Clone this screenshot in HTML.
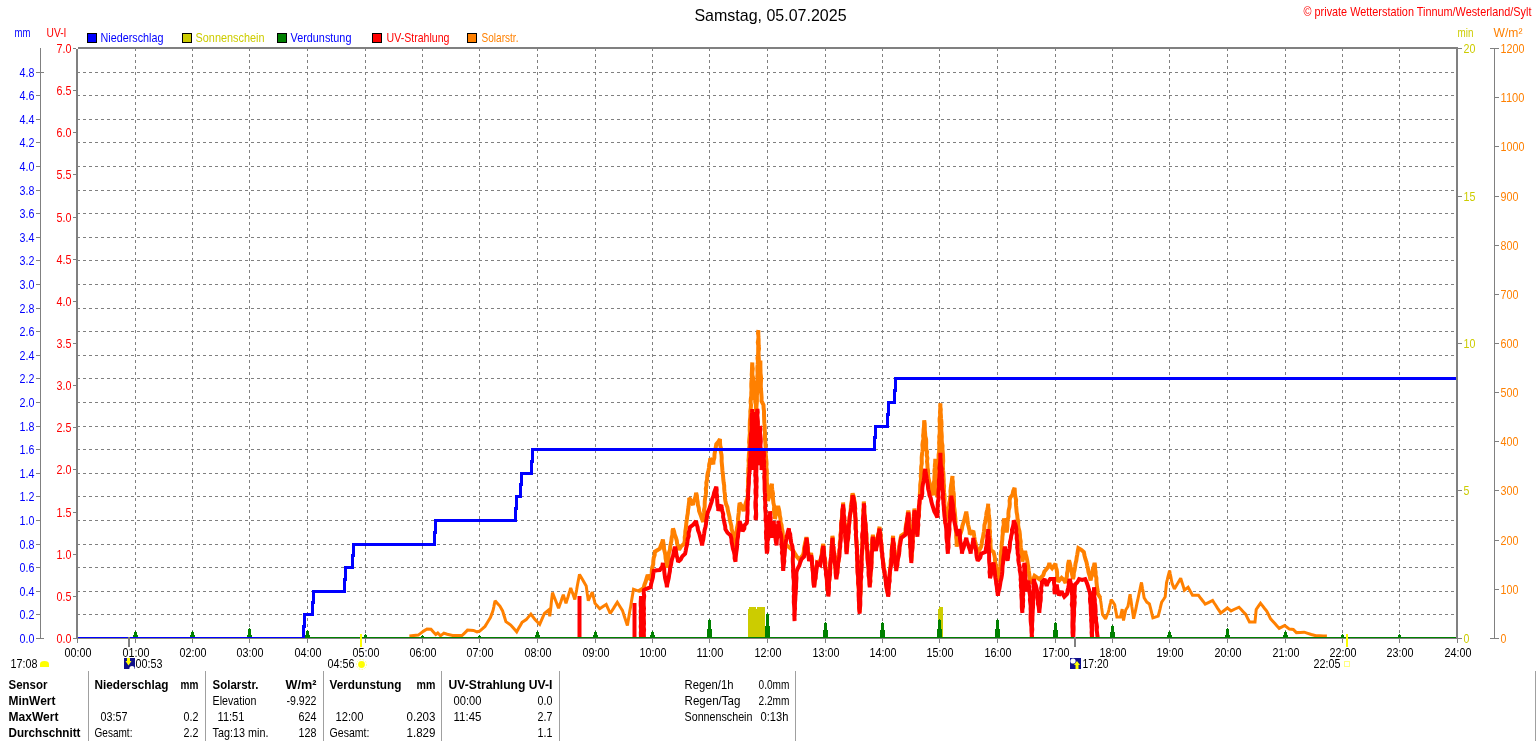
<!DOCTYPE html>
<html><head><meta charset="utf-8"><style>
html,body{margin:0;padding:0;background:#fff;width:1536px;height:741px;overflow:hidden}
svg{display:block;will-change:transform;font-family:"Liberation Sans",sans-serif}
</style></head><body>
<svg width="1536" height="741" viewBox="0 0 1536 741">
<rect width="1536" height="741" fill="#fff"/>
<g shape-rendering="crispEdges">
<line x1="77" y1="614.5" x2="1456" y2="614.5" stroke="#808080" stroke-width="1" stroke-dasharray="3 3"/>
<line x1="77" y1="591.5" x2="1456" y2="591.5" stroke="#808080" stroke-width="1" stroke-dasharray="3 3"/>
<line x1="77" y1="567.5" x2="1456" y2="567.5" stroke="#808080" stroke-width="1" stroke-dasharray="3 3"/>
<line x1="77" y1="544.5" x2="1456" y2="544.5" stroke="#808080" stroke-width="1" stroke-dasharray="3 3"/>
<line x1="77" y1="520.5" x2="1456" y2="520.5" stroke="#808080" stroke-width="1" stroke-dasharray="3 3"/>
<line x1="77" y1="496.5" x2="1456" y2="496.5" stroke="#808080" stroke-width="1" stroke-dasharray="3 3"/>
<line x1="77" y1="473.5" x2="1456" y2="473.5" stroke="#808080" stroke-width="1" stroke-dasharray="3 3"/>
<line x1="77" y1="449.5" x2="1456" y2="449.5" stroke="#808080" stroke-width="1" stroke-dasharray="3 3"/>
<line x1="77" y1="426.5" x2="1456" y2="426.5" stroke="#808080" stroke-width="1" stroke-dasharray="3 3"/>
<line x1="77" y1="402.5" x2="1456" y2="402.5" stroke="#808080" stroke-width="1" stroke-dasharray="3 3"/>
<line x1="77" y1="378.5" x2="1456" y2="378.5" stroke="#808080" stroke-width="1" stroke-dasharray="3 3"/>
<line x1="77" y1="355.5" x2="1456" y2="355.5" stroke="#808080" stroke-width="1" stroke-dasharray="3 3"/>
<line x1="77" y1="331.5" x2="1456" y2="331.5" stroke="#808080" stroke-width="1" stroke-dasharray="3 3"/>
<line x1="77" y1="308.5" x2="1456" y2="308.5" stroke="#808080" stroke-width="1" stroke-dasharray="3 3"/>
<line x1="77" y1="284.5" x2="1456" y2="284.5" stroke="#808080" stroke-width="1" stroke-dasharray="3 3"/>
<line x1="77" y1="260.5" x2="1456" y2="260.5" stroke="#808080" stroke-width="1" stroke-dasharray="3 3"/>
<line x1="77" y1="237.5" x2="1456" y2="237.5" stroke="#808080" stroke-width="1" stroke-dasharray="3 3"/>
<line x1="77" y1="213.5" x2="1456" y2="213.5" stroke="#808080" stroke-width="1" stroke-dasharray="3 3"/>
<line x1="77" y1="190.5" x2="1456" y2="190.5" stroke="#808080" stroke-width="1" stroke-dasharray="3 3"/>
<line x1="77" y1="166.5" x2="1456" y2="166.5" stroke="#808080" stroke-width="1" stroke-dasharray="3 3"/>
<line x1="77" y1="142.5" x2="1456" y2="142.5" stroke="#808080" stroke-width="1" stroke-dasharray="3 3"/>
<line x1="77" y1="119.5" x2="1456" y2="119.5" stroke="#808080" stroke-width="1" stroke-dasharray="3 3"/>
<line x1="77" y1="95.5" x2="1456" y2="95.5" stroke="#808080" stroke-width="1" stroke-dasharray="3 3"/>
<line x1="77" y1="72.5" x2="1456" y2="72.5" stroke="#808080" stroke-width="1" stroke-dasharray="3 3"/>
<line x1="135.5" y1="48" x2="135.5" y2="638" stroke="#808080" stroke-width="1" stroke-dasharray="3 3"/>
<line x1="192.5" y1="48" x2="192.5" y2="638" stroke="#808080" stroke-width="1" stroke-dasharray="3 3"/>
<line x1="249.5" y1="48" x2="249.5" y2="638" stroke="#808080" stroke-width="1" stroke-dasharray="3 3"/>
<line x1="307.5" y1="48" x2="307.5" y2="638" stroke="#808080" stroke-width="1" stroke-dasharray="3 3"/>
<line x1="365.5" y1="48" x2="365.5" y2="638" stroke="#808080" stroke-width="1" stroke-dasharray="3 3"/>
<line x1="422.5" y1="48" x2="422.5" y2="638" stroke="#808080" stroke-width="1" stroke-dasharray="3 3"/>
<line x1="479.5" y1="48" x2="479.5" y2="638" stroke="#808080" stroke-width="1" stroke-dasharray="3 3"/>
<line x1="537.5" y1="48" x2="537.5" y2="638" stroke="#808080" stroke-width="1" stroke-dasharray="3 3"/>
<line x1="595.5" y1="48" x2="595.5" y2="638" stroke="#808080" stroke-width="1" stroke-dasharray="3 3"/>
<line x1="652.5" y1="48" x2="652.5" y2="638" stroke="#808080" stroke-width="1" stroke-dasharray="3 3"/>
<line x1="709.5" y1="48" x2="709.5" y2="638" stroke="#808080" stroke-width="1" stroke-dasharray="3 3"/>
<line x1="767.5" y1="48" x2="767.5" y2="638" stroke="#808080" stroke-width="1" stroke-dasharray="3 3"/>
<line x1="825.5" y1="48" x2="825.5" y2="638" stroke="#808080" stroke-width="1" stroke-dasharray="3 3"/>
<line x1="882.5" y1="48" x2="882.5" y2="638" stroke="#808080" stroke-width="1" stroke-dasharray="3 3"/>
<line x1="939.5" y1="48" x2="939.5" y2="638" stroke="#808080" stroke-width="1" stroke-dasharray="3 3"/>
<line x1="997.5" y1="48" x2="997.5" y2="638" stroke="#808080" stroke-width="1" stroke-dasharray="3 3"/>
<line x1="1055.5" y1="48" x2="1055.5" y2="638" stroke="#808080" stroke-width="1" stroke-dasharray="3 3"/>
<line x1="1112.5" y1="48" x2="1112.5" y2="638" stroke="#808080" stroke-width="1" stroke-dasharray="3 3"/>
<line x1="1169.5" y1="48" x2="1169.5" y2="638" stroke="#808080" stroke-width="1" stroke-dasharray="3 3"/>
<line x1="1227.5" y1="48" x2="1227.5" y2="638" stroke="#808080" stroke-width="1" stroke-dasharray="3 3"/>
<line x1="1285.5" y1="48" x2="1285.5" y2="638" stroke="#808080" stroke-width="1" stroke-dasharray="3 3"/>
<line x1="1342.5" y1="48" x2="1342.5" y2="638" stroke="#808080" stroke-width="1" stroke-dasharray="3 3"/>
<line x1="1399.5" y1="48" x2="1399.5" y2="638" stroke="#808080" stroke-width="1" stroke-dasharray="3 3"/>
</g>
<defs><clipPath id="pc"><rect x="78" y="49" width="1378" height="589"/></clipPath></defs>
<g clip-path="url(#pc)">
<g shape-rendering="crispEdges" fill="#cccc00"><rect x="748" y="609" width="1" height="29"/><rect x="749" y="607" width="7" height="31"/><rect x="756" y="609" width="1" height="29"/><rect x="757" y="607" width="8" height="31"/><rect x="938" y="609" width="1" height="29"/><rect x="939" y="607" width="4" height="31"/></g>
<polyline points="409.4,636.1 413.8,635.6 418.2,635.1 420.9,633.1 423.6,631.1 427.0,629.0 431.0,629.3 433.4,631.9 435.8,634.5 437.8,633.0 440.5,635.8 443.9,633.1 447.2,634.2 452.6,635.5 455.7,635.5 458.9,635.5 462.0,635.5 464.8,632.8 467.5,630.1 470.5,630.2 473.5,630.4 477.0,631.8 479.6,631.1 482.3,628.8 485.0,626.4 486.8,623.5 488.6,620.5 490.4,617.6 491.8,613.9 493.1,610.2 493.8,607.0 494.4,603.9 495.1,600.7 497.5,603.4 499.9,606.1 502.6,610.9 503.7,614.5 504.8,618.0 505.9,621.6 510.7,625.0 512.7,627.3 514.7,629.5 516.7,631.8 518.5,628.6 520.3,625.5 522.1,622.3 526.2,619.6 528.5,616.9 530.9,614.2 533.0,616.9 535.0,619.6 537.4,622.0 539.7,624.3 541.3,620.7 542.8,617.1 544.4,613.5 548.4,610.2 549.1,613.2 549.8,616.2 550.2,612.8 550.6,609.5 551.0,606.1 551.3,602.7 551.7,599.3 552.1,596.0 552.5,592.6 553.7,595.7 554.9,598.8 556.2,602.0 557.4,605.1 558.6,608.2 559.8,604.8 561.0,601.5 562.1,598.1 563.3,594.7 564.2,597.6 565.1,600.5 566.0,603.4 566.9,600.3 567.9,597.2 568.8,594.1 569.8,591.0 570.7,587.9 571.7,590.8 572.8,593.6 573.8,596.5 574.8,599.4 575.4,596.3 576.0,593.1 576.6,590.0 577.1,586.9 577.7,583.8 578.3,580.6 578.9,577.5 579.5,574.4 582.2,579.1 584.2,582.5 586.2,585.9 586.7,589.6 587.2,593.3 587.8,597.0 588.3,600.7 589.6,597.8 591.0,594.9 592.3,592.0 593.2,595.8 594.1,599.6 595.0,603.4 597.4,606.1 599.7,608.8 603.0,606.6 606.2,604.4 607.5,607.4 608.9,610.5 610.2,613.5 612.0,610.7 613.8,607.9 615.5,605.1 617.3,602.3 619.0,605.0 620.7,607.7 622.4,610.4 623.4,613.4 624.4,616.5 625.4,619.5 626.4,622.6 627.4,625.6 627.9,622.6 628.4,619.5 628.9,616.5 629.4,613.5 629.9,610.4 630.5,607.4 631.0,604.4 631.5,601.3 632.0,598.3 632.5,595.3 633.0,592.2 633.5,589.2 638.6,591.2 643.6,588.2" fill="none" stroke="#ff8000" stroke-width="3" stroke-linejoin="miter" stroke-miterlimit="2"/>
<polyline points="638.6,591.2 643.6,588.2 644.4,584.9 645.7,581.6 646.6,578.3 647.7,575.0 650.7,580.0 651.2,576.9 651.7,573.7 651.8,570.6 652.2,567.4 653.2,564.3 653.3,561.1 653.7,558.0 654.7,554.8 654.8,551.7 659.8,548.7 660.8,545.7 662.1,542.6 662.9,539.6 663.3,542.7 663.9,545.9 664.0,549.0 664.8,552.2 665.4,555.3 665.6,558.5 666.2,561.6 666.6,564.8 666.9,567.9 667.1,564.9 668.0,561.8 668.4,558.8 668.6,555.8 668.9,552.7 670.0,549.7 670.2,546.7 670.8,543.7 671.4,540.6 671.7,537.6 672.4,534.6 672.5,531.5 673.0,528.5 674.1,531.5 674.7,534.6 675.9,537.6 676.8,540.6 677.1,543.6 678.0,546.7 679.1,549.7 681.2,546.3 684.1,543.6 684.8,540.6 684.7,537.5 685.2,534.5 685.3,531.5 685.8,528.4 686.1,525.4 686.4,522.4 686.9,519.3 687.2,516.3 687.8,513.3 688.0,510.2 688.5,507.2 688.8,504.2 689.2,501.1 689.2,498.1 690.0,498.8 691.2,502.0 693.0,504.9 693.5,501.9 694.8,498.9 695.7,495.8 696.1,492.8 696.9,495.8 697.1,498.9 697.7,501.9 697.9,504.9 698.8,508.0 699.1,511.0 700.5,514.7 701.7,518.4 703.2,522.1 703.2,519.1 704.0,516.0 704.3,513.0 704.0,510.0 704.7,506.9 704.7,503.9 704.8,500.9 705.2,497.8 705.8,494.8 706.1,491.8 705.8,488.7 706.5,485.7 706.3,482.7 707.1,479.6 707.2,476.6 707.6,473.6 708.5,470.5 709.0,467.5 709.2,464.4 710.0,461.4 710.2,458.3 712.1,461.2 713.3,464.4 713.5,461.0 714.4,457.7 714.5,454.3 715.1,450.9 715.7,447.6 716.3,444.2 718.3,441.8 720.0,439.1 720.0,442.2 720.2,445.4 721.0,448.5 720.8,451.7 721.5,454.8 721.7,457.9 721.6,461.1 721.9,464.2 722.2,467.4 722.4,470.5 722.8,473.5 723.1,476.6 723.3,479.6 723.7,482.7 724.2,485.7 724.2,488.7 724.5,491.8 725.0,494.8 724.9,497.9 725.4,500.9 726.1,504.1 727.4,507.3 727.9,510.6 728.7,513.8 729.5,517.0 729.8,520.0 730.6,523.1 731.4,526.1 731.6,529.2 732.6,532.2 733.2,535.2 733.4,538.3 734.4,541.3 734.9,544.4 735.5,547.4 735.9,544.2 736.0,541.0 736.5,537.9 736.8,534.7 736.6,531.5 736.9,528.3 737.7,525.1 738.2,522.0 738.0,518.8 738.4,515.6 738.8,512.4 738.9,509.3 739.2,506.1 739.6,502.9 741.3,505.4 742.5,508.2 743.6,511.0 744.7,507.4 745.5,503.9 746.6,500.4 747.7,496.8 748.0,493.8 747.6,490.7 748.0,487.7 748.2,484.7 748.0,481.6 748.1,478.6 748.5,475.5 748.2,472.5 748.3,469.5 748.6,466.4 748.8,463.4 748.5,460.4 748.8,457.3 748.9,454.3 749.3,451.3 749.1,448.2 749.5,445.2 749.1,442.1 749.3,439.1 749.6,436.1 749.9,433.0 749.7,430.0 749.8,426.8 749.8,423.6 749.9,420.4 750.3,417.2 750.4,414.2 750.3,411.1 750.8,408.1 751.0,405.0 750.6,402.0 750.8,399.0 751.3,395.9 751.3,392.9 751.5,389.9 751.3,386.8 751.3,383.8 751.5,380.7 752.0,377.7 751.7,374.7 751.9,371.6 752.0,368.6 752.1,365.5 752.3,362.5 752.3,365.6 752.8,368.8 752.4,371.9 752.4,375.0 753.1,378.1 753.2,381.2 753.3,384.4 753.1,387.5 753.5,390.6 753.6,393.8 753.2,396.9 753.5,400.0 753.8,396.8 754.0,393.6 754.1,390.4 754.1,387.1 754.1,383.9 754.4,380.7 754.4,383.7 754.5,386.7 754.6,389.8 755.1,392.8 755.0,395.8 755.5,398.8 755.2,401.9 755.9,404.9 755.9,407.9 756.2,410.9 756.4,414.0 756.5,417.0 756.4,420.0 756.5,416.9 756.2,413.8 756.8,410.7 756.4,407.6 756.6,404.5 756.9,401.4 756.9,398.3 756.9,395.2 757.3,392.1 757.2,389.0 757.0,385.9 757.1,382.8 757.5,379.7 757.3,376.6 757.6,373.5 757.4,370.4 757.4,367.3 757.7,364.2 757.9,361.1 757.5,358.0 758.1,354.9 758.2,351.8 758.2,348.7 758.3,345.6 757.8,342.5 758.3,339.4 758.5,336.3 758.0,333.2 758.4,330.1 758.3,333.2 758.4,336.3 758.6,339.5 758.6,342.6 758.7,345.7 759.0,348.8 758.5,351.9 758.6,355.1 758.8,358.2 758.8,361.3 758.9,364.4 759.6,367.5 759.5,370.6 759.1,373.8 759.4,376.9 759.5,380.0 759.5,376.8 759.7,373.5 759.8,370.2 760.2,367.0 760.3,363.8 760.4,360.5 760.4,363.6 760.4,366.7 760.5,369.8 760.5,373.0 760.9,376.1 761.1,379.2 760.9,382.3 760.8,385.4 760.9,388.5 761.2,391.7 761.4,394.8 761.6,397.9 761.5,401.0 763.5,405.0 763.6,408.1 764.0,411.2 764.0,414.3 764.1,417.5 764.2,420.6 764.4,423.7 764.7,426.8 764.7,429.9 765.0,433.0 765.0,436.2 765.0,439.3 765.4,442.4 765.5,445.5 765.8,448.6 765.5,451.7 765.8,454.7 766.0,457.8 766.4,460.9 766.6,464.0 766.3,467.0 766.8,470.1 766.9,473.2 766.7,476.3 766.9,479.4 766.8,482.4 767.5,485.5 767.5,488.6 767.8,491.7 767.8,494.7 767.9,497.8 767.9,500.9 768.9,497.4 769.6,494.0 770.1,490.5 771.2,487.1 772.0,483.6 771.9,486.8 772.3,490.1 773.0,493.3 772.8,496.5 773.1,499.7 773.4,503.0 774.2,506.2 774.0,509.4 774.1,512.6 775.0,515.9 775.0,519.1 775.5,515.8 776.8,512.5 777.4,509.2 778.1,505.9 778.9,509.1 779.5,512.3 779.8,515.6 780.5,518.8 780.5,522.0 781.6,525.2 781.9,528.4 782.6,531.6 782.7,534.9 783.7,538.1 784.1,541.3 786.4,545.2 790.0,548.0 793.0,550.4 794.9,553.6 796.9,556.8 799.3,559.6 803.0,555.0 803.8,552.0 804.0,549.0 804.5,546.0 805.1,543.0 805.9,540.0 806.4,537.0 807.0,540.2 807.1,543.3 807.5,546.5 807.9,549.6 808.2,552.8 808.7,555.9 809.1,559.1 809.8,556.0 811.1,553.0 811.4,556.2 812.1,559.5 812.0,562.7 812.5,566.0 812.4,569.2 813.1,572.4 813.4,575.7 813.7,578.9 813.9,582.2 814.2,585.4 814.6,582.4 815.1,579.3 815.6,576.3 815.5,573.2 815.8,570.2 816.6,567.2 817.1,564.1 817.2,561.1 820.2,563.1 820.7,559.9 821.2,556.7 821.9,553.5 822.0,550.3 822.6,547.1 823.3,543.9 823.4,547.1 824.0,550.2 824.1,553.4 824.4,556.5 825.0,559.7 825.5,562.9 825.3,566.0 825.9,569.2 826.1,572.4 826.7,575.5 826.8,578.7 826.9,581.9 827.2,585.0 827.3,588.2 828.0,591.3 828.3,594.5 828.4,591.4 828.5,588.3 828.8,585.2 829.0,582.1 829.6,579.1 829.3,576.0 830.2,572.9 830.0,569.8 830.3,566.7 830.4,563.6 830.9,560.5 831.1,557.4 831.1,554.3 831.3,551.2 831.7,548.2 832.0,545.1 831.9,542.0 832.3,538.9 832.4,535.8 833.0,539.0 833.0,542.2 833.1,545.4 833.4,548.6 834.1,551.8 834.4,555.0 834.9,558.1 835.1,561.3 835.0,564.5 835.3,567.7 835.6,570.9 835.9,574.1 836.4,577.3 836.9,574.0 837.4,570.7 837.8,567.4 837.8,564.1 838.6,560.9 838.6,557.6 839.1,554.3 839.5,551.0 839.9,548.0 839.7,544.9 839.9,541.9 840.6,538.9 840.5,535.8 840.7,532.8 841.1,529.7 841.4,526.7 841.2,523.7 841.6,520.6 841.9,517.6 842.2,514.5 842.2,511.5 842.7,508.5 843.2,505.4 843.1,502.4 843.2,505.5 843.6,508.6 843.5,511.7 843.8,514.8 844.3,517.9 844.1,521.0 844.9,524.1 845.1,527.2 844.8,530.3 845.6,533.4 845.4,536.5 845.9,539.6 846.1,542.7 846.0,545.8 846.5,548.9 846.6,552.0 847.0,548.9 847.4,545.7 847.3,542.6 847.9,539.5 848.3,536.4 848.4,533.2 848.5,530.1 848.5,527.0 849.1,523.9 849.2,520.7 849.6,517.6 850.1,514.6 850.5,511.5 850.8,508.5 850.9,505.5 851.6,502.4 851.9,499.4 852.0,496.3 852.6,493.3 853.6,496.3 854.1,499.4 854.7,502.4 854.6,505.4 855.3,508.5 854.9,511.5 855.1,514.5 855.5,517.6 855.6,520.6 855.7,523.7 855.9,526.7 855.9,529.7 856.0,532.8 856.0,535.8 856.1,538.8 856.7,541.9 856.8,544.9 856.8,547.9 857.1,551.0 857.0,554.0 857.0,557.0 857.3,560.1 857.7,563.1 857.3,566.2 857.8,569.2 857.7,572.2 858.2,575.3 858.1,578.3 858.2,581.3 858.4,584.4 858.6,587.4 858.9,590.4 858.8,593.5 859.2,596.5 858.9,599.6 859.1,602.6 859.1,605.6 859.3,608.7 859.7,611.7 860.0,608.6 860.1,605.6 859.8,602.5 859.9,599.4 860.2,596.4 860.6,593.3 860.7,590.3 860.8,587.2 860.8,584.1 860.6,581.1 860.9,578.0 860.9,574.9 861.2,571.9 861.3,568.8 861.2,565.7 861.3,562.7 861.8,559.6 861.4,556.5 862.1,553.5 862.3,550.4 862.4,547.4 862.1,544.3 862.4,541.2 862.5,538.2 862.6,535.1 863.0,532.0 862.9,529.0 862.7,525.9 863.3,522.8 863.1,519.8 863.3,516.7 863.5,513.7 863.1,510.6 863.8,507.5 863.8,504.5 863.8,501.4 864.0,504.4 864.2,507.4 864.4,510.4 864.4,513.4 864.9,516.4 864.8,519.4 865.3,522.4 865.6,525.4 865.7,528.4 866.0,531.4 866.5,534.4 866.6,537.4 866.3,540.4 867.0,543.4 867.1,546.4 866.9,549.4 867.3,552.4 867.5,555.4 867.6,558.4 868.1,561.4 868.6,564.4 868.4,567.4 869.0,570.4 869.1,573.4 868.9,576.4 869.6,579.4 869.7,582.4 869.8,585.4 870.3,582.2 870.3,579.1 870.5,575.9 870.5,572.8 871.0,569.6 871.3,566.4 871.4,563.3 871.3,560.1 871.7,556.9 871.7,553.8 871.7,550.6 871.8,547.4 872.0,544.3 872.3,541.1 872.5,538.0 872.9,534.8 873.6,538.3 874.5,541.9 875.2,545.5 875.9,549.0 876.4,545.8 877.1,542.6 877.3,539.4 878.0,536.3 878.7,533.1 879.0,529.9 879.6,526.7 879.7,529.8 880.5,533.0 880.7,536.1 880.7,539.2 881.1,542.3 881.5,545.5 881.8,548.6 881.9,551.7 882.0,554.8 882.5,558.0 883.0,561.1 883.7,564.1 883.7,567.2 884.4,570.2 884.6,573.2 885.1,576.3 885.6,579.3 886.2,582.4 886.5,585.4 886.8,588.4 887.4,591.5 888.1,594.5 888.1,591.4 888.6,588.3 888.6,585.2 888.8,582.1 889.4,579.1 889.6,576.0 890.1,572.9 889.9,569.8 890.4,566.7 890.7,563.6 890.7,560.5 891.6,557.4 891.3,554.3 891.5,551.2 892.0,548.2 892.1,545.1 892.7,542.0 892.7,538.9 893.1,535.8 893.1,538.8 893.3,541.9 894.1,544.9 894.1,547.9 894.7,551.0 894.8,554.0 895.4,557.1 895.2,560.1 895.5,563.1 895.8,566.2 896.2,569.2 896.9,566.2 897.2,563.1 897.5,560.1 897.7,557.1 898.6,554.0 899.3,551.0 899.4,547.9 899.5,544.9 900.0,541.9 900.5,538.8 901.2,535.8 905.3,532.8 905.5,529.6 905.8,526.4 906.3,523.2 907.1,520.1 907.7,516.9 907.7,513.7 908.3,510.5 908.8,513.7 908.7,516.8 909.1,520.0 909.3,523.1 909.5,526.3 909.1,529.5 909.5,532.6 909.9,535.8 910.3,539.0 909.9,542.1 910.2,545.3 910.8,548.5 910.5,551.6 910.8,554.8 911.0,557.9 911.3,561.1 911.6,558.0 912.0,554.9 911.6,551.8 912.2,548.7 912.4,545.6 912.6,542.5 912.6,539.4 913.1,536.3 912.8,533.3 913.1,530.2 913.1,527.1 913.7,524.0 913.7,520.9 913.7,517.8 913.8,514.7 914.4,511.6 914.4,508.5 914.8,511.8 915.3,515.1 915.4,518.4 915.9,521.6 916.0,524.9 916.8,528.2 916.7,531.5 917.4,534.8 917.6,531.7 918.0,528.6 918.1,525.5 917.9,522.3 918.2,519.2 918.8,516.1 918.8,513.0 919.2,509.9 919.4,506.8 919.3,503.7 919.8,500.5 919.9,497.4 919.8,494.3 920.1,491.2 920.2,488.1 920.2,485.0 920.6,482.0 921.1,478.9 920.7,475.8 921.2,472.7 921.1,469.7 921.2,466.6 921.8,463.5 921.7,460.4 921.7,457.3 922.0,454.3 922.5,451.2 922.7,448.1 922.4,445.0 922.8,441.9 923.5,438.9 923.1,435.8 923.5,432.7 923.6,429.6 924.0,426.6 924.1,423.5 924.2,420.4 924.7,423.6 924.8,426.7 924.8,429.9 925.1,433.1 925.3,436.3 926.1,439.4 926.2,442.6 926.1,445.7 926.2,448.9 927.1,452.0 926.7,455.1 927.4,458.2 927.0,461.4 927.4,464.5 927.5,467.6 928.1,470.7 928.1,473.9 928.2,477.0 929.0,480.4 929.7,483.8 930.2,487.2 932.0,491.2 933.3,495.3 933.4,492.3 933.7,489.2 933.8,486.2 933.7,483.1 934.4,480.1 934.4,477.1 934.7,474.0 934.4,471.0 934.8,467.9 934.9,464.9 935.3,461.8 935.3,458.8 935.2,462.0 935.5,465.2 935.8,468.4 935.7,471.6 936.2,474.8 936.5,478.1 936.4,481.3 936.7,484.5 936.9,487.7 936.8,490.9 937.0,494.1 937.3,497.3 937.7,494.3 937.4,491.2 937.6,488.2 937.4,485.2 937.6,482.1 937.7,479.1 938.3,476.1 938.3,473.0 938.5,470.0 938.6,466.9 938.5,463.9 938.8,460.9 938.6,457.8 938.6,454.8 939.1,451.8 939.2,448.7 939.3,445.7 939.1,442.7 939.4,439.6 939.2,436.6 939.7,433.6 939.8,430.5 939.5,427.5 940.0,424.4 939.6,421.4 939.6,418.4 940.2,415.3 940.0,412.3 940.2,409.3 940.4,406.2 940.4,403.2 940.2,406.2 940.8,409.3 940.6,412.3 940.9,415.3 941.0,418.4 941.4,421.4 941.5,424.4 941.3,427.5 941.3,430.5 941.6,433.5 941.8,436.6 941.7,439.6 941.9,442.6 942.5,445.7 942.4,448.7 942.7,451.8 943.0,454.9 943.1,458.1 943.2,461.2 942.9,464.3 942.9,467.4 943.1,470.5 943.4,473.7 943.5,476.8 943.7,479.9 943.7,483.0 944.1,486.1 943.9,489.3 944.1,492.4 944.5,495.5 944.6,498.6 944.4,501.8 944.5,504.9 945.0,508.0 944.6,511.1 944.8,514.2 945.2,517.4 945.3,520.5 945.4,523.6 945.9,520.0 946.6,516.5 947.5,513.0 948.5,509.4 949.1,506.4 949.2,503.3 949.9,500.3 950.2,497.3 950.7,494.2 950.4,491.2 950.8,488.1 951.1,485.1 951.7,482.1 952.0,479.0 952.5,476.0 952.4,479.0 952.9,482.0 952.8,485.0 953.1,488.0 953.3,491.0 953.8,494.0 953.8,497.0 954.0,500.0 954.0,503.1 954.0,506.2 954.5,509.3 954.8,512.5 955.0,515.6 955.4,518.7 955.5,521.8 955.3,524.9 955.4,528.0 956.0,531.1 956.2,534.2 956.2,537.4 956.6,540.5 956.6,543.6 956.7,546.7 957.3,543.8 958.1,540.9 958.8,537.9 960.0,535.0 961.0,532.1 961.8,529.2 962.3,526.2 963.2,523.3 964.2,520.4 964.9,517.5 965.6,514.5 966.3,511.6 966.7,514.9 967.3,518.1 967.6,521.4 968.1,524.6 968.9,527.9 969.6,531.1 969.8,534.4 973.3,530.9 973.9,534.0 974.3,537.0 974.8,540.1 975.5,543.1 976.3,546.2 976.6,549.3 977.5,552.3 977.7,555.4 978.2,552.2 979.7,549.5 981.2,546.7 981.7,543.6 982.1,540.6 982.9,537.5 983.4,534.4 984.0,531.3 984.3,528.3 984.4,525.2 985.3,522.1 985.7,519.1 986.2,516.0 986.5,512.9 987.3,509.8 988.0,506.8 988.2,503.7 988.1,506.8 988.7,509.9 988.6,513.0 988.9,516.1 989.4,519.2 989.6,522.3 989.6,525.4 989.4,528.5 990.1,531.6 989.8,534.7 990.1,537.8 990.6,540.9 990.4,544.0 990.6,547.1 990.9,550.2 993.5,551.9 994.3,554.9 994.9,557.9 995.0,560.9 995.5,563.9 996.0,566.8 996.4,569.8 997.0,572.8 998.1,575.8 998.0,578.8 998.8,581.8 998.9,578.8 999.1,575.8 999.2,572.8 999.8,569.8 1000.2,566.8 1000.5,563.7 1000.6,560.7 1001.0,557.7 1000.7,554.7 1001.1,551.7 1001.8,548.7 1001.5,545.7 1001.9,542.7 1002.3,539.7 1002.4,536.7 1002.8,533.6 1002.7,530.6 1003.1,527.6 1003.8,524.6 1003.5,521.6 1004.0,518.6 1005.0,522.1 1005.1,525.6 1006.4,529.1 1006.7,532.6 1007.1,529.4 1007.4,526.2 1007.4,523.0 1007.7,519.8 1008.5,516.6 1008.4,513.5 1008.7,510.3 1009.5,507.1 1009.8,503.9 1009.6,500.7 1010.2,497.5 1012.5,494.7 1013.2,491.1 1014.6,487.9 1014.8,490.9 1014.9,493.9 1015.4,497.0 1016.1,500.0 1015.9,503.0 1016.1,506.0 1016.4,509.1 1016.6,512.1 1017.2,515.1 1017.5,518.4 1018.3,521.6 1018.1,524.9 1018.6,528.1 1019.5,531.4 1019.9,534.6 1020.0,537.9 1020.7,541.3 1020.5,544.7 1020.9,548.1 1021.7,551.4 1021.7,554.8 1022.2,558.2 1022.4,561.6 1023.2,558.0 1023.9,554.4 1025.1,550.8 1025.7,554.2 1026.6,557.5 1027.3,560.9 1027.8,564.3 1028.3,567.4 1028.7,570.6 1029.2,573.8 1029.6,576.9 1030.1,580.1 1030.5,583.2 1033.1,579.8 1034.6,575.8 1039.3,579.1 1043.3,575.1 1044.3,571.8 1046.5,569.1 1048.6,566.3 1049.4,562.9 1050.1,565.9 1052.1,568.3 1055.5,563.6 1055.7,566.6 1056.7,569.7 1057.1,572.7 1057.1,575.7 1057.6,578.8 1058.2,581.8 1061.6,577.8 1064.1,580.1 1065.6,583.2 1065.8,579.9 1066.9,576.6 1067.0,573.3 1067.8,570.1 1067.8,566.8 1068.2,563.5 1069.0,560.2 1069.9,563.4 1070.5,566.5 1071.3,569.7 1071.8,572.8 1072.4,576.0 1073.0,579.1 1073.7,576.0 1073.8,572.9 1074.6,569.8 1075.1,566.7 1075.5,563.6 1076.3,560.5 1076.7,557.4 1077.3,554.3 1077.8,551.2 1078.4,548.1 1081.3,549.8 1083.8,552.1 1084.5,555.5 1085.4,558.9 1086.5,562.2 1087.2,565.6 1088.0,569.0 1088.5,572.4 1089.8,576.5 1090.6,580.5 1091.1,577.6 1092.3,574.6 1092.4,571.7 1093.0,568.8 1093.9,565.8 1094.6,562.9 1095.1,565.9 1095.1,569.0 1095.6,572.0 1095.6,575.1 1096.4,578.1 1096.4,581.1 1096.7,584.2 1097.0,587.2 1097.6,590.3 1097.6,593.3 1100.3,597.7" fill="none" stroke="#ff8000" stroke-width="4" stroke-linejoin="miter" stroke-miterlimit="2"/>
<polyline points="1097.6,593.3 1100.3,597.7 1100.7,601.0 1101.2,604.4 1101.6,607.7 1102.1,611.1 1102.5,614.4 1105.5,618.8 1106.8,615.7 1108.2,612.6 1109.0,609.3 1109.7,606.0 1110.5,602.8 1111.2,599.5 1113.0,602.1 1114.7,604.7 1115.2,607.8 1115.8,610.9 1116.4,613.9 1116.9,617.0 1120.4,617.0 1121.3,613.0 1122.2,609.1 1122.6,612.9 1123.1,616.7 1123.5,620.5 1124.2,617.0 1125.0,613.5 1125.7,610.0 1127.9,606.5 1128.5,603.4 1129.0,600.4 1129.5,597.3 1130.1,594.2 1130.5,597.3 1131.0,600.4 1131.4,603.4 1131.8,606.5 1132.3,609.6 1132.7,612.6 1133.2,615.7 1133.6,618.8 1134.3,615.6 1135.1,612.3 1135.8,609.1 1136.4,606.1 1137.0,603.1 1137.7,600.2 1138.3,597.2 1138.9,594.2 1139.6,591.2 1140.2,588.3 1140.8,585.4 1141.5,582.4 1142.0,585.5 1142.5,588.5 1143.1,591.6 1143.6,594.6 1144.1,597.7 1146.8,602.1 1149.4,603.9 1150.3,607.4 1151.2,610.9 1152.0,614.4 1152.9,617.9 1158.2,616.1 1159.1,612.6 1160.0,609.1 1160.8,605.6 1161.7,602.1 1163.5,599.5 1165.2,596.8 1165.5,593.3 1165.8,589.8 1166.2,586.3 1166.5,582.8 1167.3,579.7 1168.0,576.6 1168.8,573.6 1169.6,570.5 1170.2,573.8 1170.9,577.1 1171.5,580.4 1172.2,583.7 1174.4,588.9 1176.0,586.2 1177.6,583.6 1179.1,580.9 1180.7,578.3 1181.6,581.2 1182.6,584.2 1183.5,587.1 1184.4,590.1 1188.1,587.2 1189.6,589.9 1191.0,592.6 1192.5,595.3 1195.5,595.3 1198.5,595.3 1200.7,598.3 1203.0,601.2 1205.2,604.2 1208.9,602.4 1212.6,600.5 1214.2,603.0 1215.9,605.5 1217.5,608.1 1219.2,610.6 1220.8,613.1 1224.1,610.5 1227.4,608.0 1231.1,610.9 1235.0,609.0 1239.0,607.2 1241.2,609.5 1243.4,611.9 1245.6,614.2 1247.5,618.1 1249.5,622.0 1255.0,622.0 1255.3,618.9 1255.6,615.8 1255.9,612.6 1256.2,609.5 1258.3,606.4 1260.5,603.3 1262.6,605.9 1264.6,608.5 1266.7,611.1 1268.7,615.0 1270.6,618.9 1272.8,621.2 1274.9,623.6 1277.0,625.9 1279.2,628.3 1282.0,626.9 1284.7,625.5 1289.4,629.1 1293.3,629.5 1296.4,632.6 1300.3,632.4 1304.2,632.2 1307.8,633.4 1311.3,634.5 1315.9,635.7 1319.6,635.8 1323.2,636.0 1326.9,636.1" fill="none" stroke="#ff8000" stroke-width="3" stroke-linejoin="miter" stroke-miterlimit="2"/>
<polyline points="579.5,639.0 579.5,635.9 579.5,632.9 579.5,629.8 579.5,626.7 579.5,623.6 579.5,620.6 579.5,617.5 579.5,614.4 579.5,611.4 579.5,608.3 579.5,605.2 579.5,602.1 579.5,599.1 579.5,596.0" fill="none" stroke="#ff0000" stroke-width="4" stroke-linejoin="miter" stroke-miterlimit="2"/>
<polyline points="634.5,639.0 634.5,636.0 634.5,633.0 634.5,630.0 634.5,627.0 634.5,624.0 634.5,621.0 634.5,618.0 634.5,615.0 634.5,612.0 634.5,609.0 634.5,606.0 634.5,603.0" fill="none" stroke="#ff0000" stroke-width="4" stroke-linejoin="miter" stroke-miterlimit="2"/>
<polyline points="641.0,639.0 640.9,635.9 640.8,632.9 641.1,629.8 640.7,626.7 641.0,623.6 640.9,620.6 640.7,617.5 641.0,614.4 640.7,611.4 641.0,608.3 640.7,605.2 640.7,602.1 640.9,599.1 641.0,596.0" fill="none" stroke="#ff0000" stroke-width="4" stroke-linejoin="miter" stroke-miterlimit="2"/>
<polyline points="644.0,639.0 643.9,635.9 643.8,632.9 644.1,629.8 643.7,626.8 644.0,623.7 643.9,620.6 643.7,617.6 644.0,614.5 643.7,611.4 644.0,608.4 643.7,605.3 643.7,602.2 643.9,599.2 644.2,596.1 643.7,593.1 644.0,590.0 645.7,589.2 650.7,587.2 651.1,584.0 652.0,580.7 652.9,577.5 653.2,574.2 653.8,571.0 656.8,570.3 659.8,570.0 662.2,566.8 662.9,562.9 663.1,565.9 664.2,569.0 664.3,572.0 664.7,575.0 665.1,578.1 665.8,581.1 666.6,584.2 666.9,587.2 667.3,584.0 668.1,580.8 668.8,577.6 669.2,574.5 669.9,571.3 670.1,568.1 671.0,564.9 671.4,561.9 672.1,558.8 673.1,555.8 673.6,552.8 674.2,549.7 675.0,546.7 675.7,549.7 676.2,552.8 676.7,555.8 677.7,558.9 678.1,561.9 680.7,559.5 682.4,556.2 685.1,553.8 685.7,550.8 686.2,547.9 687.0,544.9 687.4,542.0 687.7,539.0 688.7,536.1 688.6,533.1 689.4,530.2 690.0,527.2 693.4,524.5 696.1,521.1 696.6,524.1 697.6,527.2 698.0,530.2 699.2,533.2 700.0,536.3 700.7,539.3 701.6,542.4 702.1,545.4 702.5,542.4 703.3,539.3 703.7,536.3 704.2,533.2 704.6,530.2 705.4,527.2 706.0,524.1 706.2,521.1 706.8,518.0 707.2,515.0 707.9,511.8 709.4,508.5 710.4,505.3 711.6,502.0 712.3,498.8 713.5,495.8 714.1,492.8 715.2,489.7 716.3,486.7 716.7,489.7 716.5,492.8 717.0,495.8 717.1,498.9 717.3,501.9 717.5,504.9 718.2,508.0 718.3,511.0 719.2,507.6 721.4,504.9 721.7,507.9 722.3,511.0 723.2,514.0 723.1,517.0 723.9,520.1 724.4,523.1 725.2,526.2 725.4,529.2 727.5,532.7 730.5,535.3 731.4,538.6 731.6,541.9 732.3,545.2 732.9,548.5 733.9,551.7 734.6,555.0 734.6,558.3 735.5,561.6 735.6,558.5 735.9,555.4 736.3,552.3 736.8,549.1 737.1,546.0 737.2,542.9 737.4,539.8 738.0,536.7 738.2,533.6 738.7,530.4 739.3,527.3 739.4,524.2 739.6,521.1 740.6,524.5 741.7,527.8 742.6,531.2 744.3,528.7 744.5,525.4 746.7,523.1 747.2,520.0 747.2,516.9 747.5,513.8 747.6,510.7 747.5,507.6 747.7,504.5 747.7,501.4 748.2,498.3 748.0,495.3 748.2,492.2 748.4,489.1 748.6,486.0 748.9,482.9 748.9,479.8 749.0,476.7 749.3,473.6 749.7,470.5 749.6,467.1 749.9,463.7 749.8,460.2 750.5,456.8 750.4,453.4 750.5,450.0 750.4,446.8 750.6,443.7 750.8,440.5 751.0,437.4 750.9,434.2 751.6,431.1 751.8,427.9 751.6,424.8 751.7,421.6 751.6,418.5 751.7,415.3 752.1,412.2 752.3,409.0 752.2,412.1 752.7,415.1 752.2,418.1 752.2,421.2 752.9,424.2 752.7,427.3 752.5,430.4 752.8,433.4 752.5,436.4 752.9,439.5 753.3,442.6 753.3,445.6 753.2,448.6 753.0,451.7 753.1,454.8 753.0,457.8 753.5,460.9 753.4,463.9 753.6,466.9 753.5,470.0 753.5,466.9 753.5,463.9 754.0,460.8 754.2,457.8 754.1,454.7 754.2,451.7 754.3,448.6 754.3,445.6 754.0,442.5 754.3,439.5 754.3,436.4 754.1,433.4 754.2,430.3 754.5,427.3 754.5,424.2 754.9,421.2 755.2,418.1 754.9,415.1 755.0,412.0 755.3,415.0 755.4,418.0 755.4,421.0 755.0,424.0 754.9,427.0 754.9,430.0 754.9,433.0 755.0,436.0 755.3,439.0 755.5,442.0 755.5,445.0 755.3,448.0 755.4,451.0 755.5,454.0 755.0,457.0 755.5,460.0 755.7,463.0 755.6,466.1 755.6,469.1 755.4,472.1 755.2,475.1 755.7,478.1 755.4,481.1 755.7,484.1 755.9,487.1 755.5,490.1 755.5,493.1 755.9,496.1 755.8,499.1 755.4,502.1 755.4,505.1 755.5,508.1 756.0,511.1 756.0,514.1 755.5,517.1 755.8,520.1 756.1,517.1 756.2,514.1 756.0,511.1 755.9,508.1 756.1,505.1 755.8,502.1 755.8,499.1 756.5,496.1 756.3,493.1 756.3,490.1 756.6,487.1 756.3,484.1 756.6,481.1 756.6,478.1 756.2,475.1 756.3,472.1 756.4,469.1 756.4,466.1 756.7,463.0 756.5,460.0 756.7,457.0 756.5,454.0 757.1,451.0 756.7,448.0 756.9,445.0 757.0,442.0 757.3,439.0 757.0,436.0 757.3,433.0 757.1,430.0 757.2,427.0 757.2,424.0 756.9,421.0 757.2,418.0 757.1,415.0 757.0,412.0 757.4,409.0 757.7,412.1 757.3,415.2 757.6,418.3 757.9,421.4 757.9,424.6 757.8,427.7 758.0,430.8 758.1,433.9 758.4,437.0 758.0,440.1 758.4,443.2 758.3,446.3 758.4,449.4 758.8,452.6 758.7,455.7 758.9,458.8 759.1,461.9 759.0,465.0 759.4,462.0 759.1,459.0 759.3,456.0 759.3,453.0 759.4,450.0 759.6,447.0 759.5,444.0 759.6,441.0 759.7,438.0 760.1,435.0 760.0,432.0 760.2,429.0 760.0,426.0 760.4,429.1 760.0,432.3 760.4,435.4 760.7,438.6 760.8,441.7 760.4,444.9 760.5,448.0 760.8,451.1 760.7,454.3 760.9,457.4 760.9,460.6 761.4,463.7 761.6,466.9 761.5,470.0 762.1,466.6 761.9,463.2 762.7,459.8 762.9,456.4 762.9,453.0 763.5,449.6 763.9,452.7 764.0,455.7 763.6,458.8 764.2,461.8 763.9,464.9 764.1,467.9 764.5,471.0 764.5,474.0 764.2,477.1 764.5,480.2 764.6,483.2 764.6,486.3 764.6,489.3 764.8,492.4 765.2,495.4 764.8,498.5 765.2,501.6 765.3,504.6 765.1,507.7 765.4,510.7 765.7,513.8 765.7,516.8 765.5,519.9 766.2,522.9 766.2,526.0 766.4,529.1 765.9,532.1 766.1,535.2 766.1,538.2 766.7,541.3 766.4,544.3 766.4,547.4 766.7,550.4 766.9,553.5 767.4,550.5 767.6,547.5 767.4,544.5 767.5,541.4 768.3,538.4 768.3,535.4 768.6,532.4 768.4,529.4 768.6,526.4 769.2,523.4 769.3,520.3 769.3,517.3 770.1,514.3 770.0,511.3 770.3,514.6 770.7,517.9 770.4,521.2 771.2,524.5 770.9,527.9 771.7,531.2 771.6,534.5 771.9,537.8 772.2,534.4 772.7,531.0 773.3,527.6 773.3,524.2 773.8,520.8 773.9,523.9 774.5,526.9 774.7,530.0 774.9,533.1 775.3,536.2 775.6,539.2 776.0,542.3 776.6,545.4 776.7,542.3 776.9,539.2 777.5,536.2 777.4,533.1 777.8,530.0 777.8,526.9 778.2,523.9 778.5,520.8 778.7,524.2 779.4,527.6 779.8,531.0 780.9,534.4 781.3,537.8 781.5,540.8 781.4,543.8 781.8,546.8 782.3,549.8 781.9,552.8 782.6,555.9 782.5,558.9 782.7,561.9 783.1,564.9 783.0,567.9 783.2,570.9 783.4,567.7 783.8,564.5 784.3,561.3 784.0,558.1 784.6,555.0 784.8,551.8 785.0,548.6 785.1,545.4 785.8,542.0 786.5,538.6 787.1,535.2 787.9,531.8 788.9,528.4 789.1,531.4 790.2,534.3 790.4,537.3 790.8,540.2 791.3,543.2 792.4,546.1 792.7,549.1 793.0,552.2 793.0,555.4 792.8,558.5 792.8,561.6 793.0,564.7 793.2,567.9 793.0,571.0 793.3,574.1 793.3,577.2 793.8,580.4 793.9,583.5 793.7,586.6 793.6,589.7 794.2,592.9 793.8,596.0 793.9,599.1 793.8,602.2 794.1,605.4 794.3,608.5 794.4,611.6 794.2,614.7 794.5,617.9 794.6,621.0 794.4,617.9 794.7,614.9 794.7,611.8 795.0,608.7 794.9,605.6 795.0,602.5 795.3,599.5 795.4,596.4 795.7,593.3 795.8,590.2 796.1,587.2 796.1,584.1 796.3,581.0 796.5,577.9 796.3,574.9 796.5,571.8 797.6,568.7 799.3,565.5 800.2,562.4 801.5,559.2 804.0,556.7 804.6,553.6 804.9,550.4 804.9,547.2 805.9,544.1 806.4,540.9 806.5,537.8 807.0,541.1 807.4,544.5 807.8,547.8 807.7,551.1 808.4,554.4 808.7,557.8 809.1,561.1 810.3,558.0 811.1,555.0 811.6,558.2 811.9,561.5 812.1,564.7 812.6,568.0 812.8,571.2 813.1,574.4 813.1,577.7 813.3,580.9 813.6,584.2 814.2,587.4 814.5,584.4 814.7,581.3 815.6,578.3 815.7,575.2 816.2,572.2 816.5,569.2 817.0,566.1 817.2,563.1 820.2,565.1 820.7,561.9 820.9,558.7 822.0,555.5 822.4,552.3 822.8,549.1 823.3,545.9 823.6,549.1 824.0,552.2 823.9,555.4 824.7,558.5 824.7,561.7 824.9,564.9 825.3,568.0 826.0,571.2 825.9,574.4 826.6,577.5 827.1,580.7 827.0,583.9 827.3,587.0 827.7,590.2 828.1,593.3 828.3,596.5 828.7,593.4 828.8,590.3 829.0,587.2 828.9,584.1 829.1,581.1 829.4,578.0 830.0,574.9 829.9,571.8 830.3,568.7 830.1,565.6 830.4,562.5 830.7,559.4 831.2,556.3 831.5,553.2 831.7,550.2 831.6,547.1 832.0,544.0 832.2,540.9 832.4,537.8 832.7,541.0 832.7,544.2 833.6,547.4 833.4,550.6 834.3,553.8 834.6,557.0 834.2,560.1 834.8,563.3 835.4,566.5 835.8,569.7 835.7,572.9 835.9,576.1 836.4,579.3 836.6,576.0 837.5,572.7 837.4,569.4 838.0,566.1 838.1,562.9 838.7,559.6 839.4,556.3 839.5,553.0 839.5,550.0 840.2,546.9 840.2,543.9 840.7,540.9 840.8,537.8 840.7,534.8 841.4,531.7 841.3,528.7 841.2,525.7 841.4,522.6 842.0,519.6 842.2,516.5 842.3,513.5 842.4,510.5 842.8,507.4 843.1,504.4 843.2,507.5 843.8,510.6 843.4,513.7 844.2,516.8 844.4,519.9 844.1,523.0 844.9,526.1 845.0,529.2 845.3,532.3 845.1,535.4 845.4,538.5 845.7,541.6 846.3,544.7 846.2,547.8 846.3,550.9 846.6,554.0 846.8,550.9 847.0,547.7 847.1,544.6 847.4,541.5 848.2,538.4 848.1,535.2 848.8,532.1 848.6,529.0 848.9,525.9 849.3,522.7 849.6,519.6 849.8,516.6 850.3,513.5 851.0,510.5 851.4,507.5 851.7,504.4 851.9,501.4 852.5,498.3 852.6,495.3 853.6,498.3 854.0,501.4 854.7,504.4 855.0,507.4 854.7,510.5 855.3,513.5 855.2,516.5 855.6,519.6 855.6,522.6 855.5,525.7 855.5,528.7 856.2,531.7 855.8,534.8 856.2,537.8 856.3,540.8 856.4,543.9 856.8,546.9 857.1,549.9 856.8,553.0 857.2,556.0 857.1,559.0 857.4,562.1 857.4,565.1 857.4,568.2 857.5,571.2 857.7,574.2 858.3,577.3 858.2,580.3 858.1,583.3 858.7,586.4 858.9,589.4 858.7,592.4 858.6,595.5 858.8,598.5 858.9,601.6 859.2,604.6 859.1,607.6 859.4,610.7 859.7,613.7 859.6,610.6 860.0,607.6 860.3,604.5 860.3,601.4 860.2,598.4 860.3,595.3 860.5,592.3 860.5,589.2 860.6,586.1 860.5,583.1 860.8,580.0 861.4,576.9 860.9,573.9 861.3,570.8 861.5,567.7 861.8,564.7 861.4,561.6 861.6,558.5 861.7,555.5 861.9,552.4 862.1,549.4 862.5,546.3 862.6,543.2 862.7,540.2 862.2,537.1 862.3,534.0 862.9,531.0 863.2,527.9 863.0,524.8 863.2,521.8 862.9,518.7 863.3,515.7 863.8,512.6 863.8,509.5 863.9,506.5 863.8,503.4 864.3,506.4 864.1,509.4 864.2,512.4 864.4,515.4 864.9,518.4 865.2,521.4 865.6,524.4 865.7,527.4 865.8,530.4 866.1,533.4 866.1,536.4 866.4,539.4 866.3,542.4 867.0,545.4 866.8,548.4 867.5,551.4 867.5,554.4 867.5,557.4 867.6,560.4 867.9,563.4 868.4,566.4 868.7,569.4 868.5,572.4 868.6,575.4 869.2,578.4 869.4,581.4 869.5,584.4 869.8,587.4 869.8,584.2 870.3,581.1 870.0,577.9 870.4,574.8 870.7,571.6 871.3,568.4 871.3,565.3 871.6,562.1 871.5,558.9 871.6,555.8 871.8,552.6 872.4,549.4 872.5,546.3 872.4,543.1 872.4,540.0 872.9,536.8 873.6,540.3 874.5,543.9 875.1,547.5 875.9,551.0 876.3,547.8 877.1,544.6 877.8,541.4 877.8,538.3 878.2,535.1 879.0,531.9 879.6,528.7 879.9,531.8 880.3,535.0 880.3,538.1 881.0,541.2 881.3,544.3 881.5,547.5 881.6,550.6 882.4,553.7 882.3,556.8 882.9,560.0 883.0,563.1 883.3,566.1 883.7,569.2 884.6,572.2 884.7,575.2 885.6,578.3 885.8,581.3 886.0,584.4 886.5,587.4 887.1,590.4 887.8,593.5 888.1,596.5 888.7,593.4 888.4,590.3 888.8,587.2 889.0,584.1 889.7,581.1 889.4,578.0 889.6,574.9 889.9,571.8 890.4,568.7 891.0,565.6 891.3,562.5 891.4,559.4 891.9,556.3 892.1,553.2 891.9,550.2 892.1,547.1 892.9,544.0 893.0,540.9 893.1,537.8 893.1,540.8 893.8,543.9 893.9,546.9 894.1,549.9 894.4,553.0 894.6,556.0 894.7,559.1 895.2,562.1 895.5,565.1 896.2,568.2 896.2,571.2 896.4,568.2 897.4,565.1 897.4,562.1 897.9,559.1 898.7,556.0 899.2,553.0 899.3,549.9 899.5,546.9 900.3,543.9 900.7,540.8 901.2,537.8 905.3,534.8 906.0,531.6 905.9,528.4 906.5,525.2 907.3,522.1 907.1,518.9 907.8,515.7 908.3,512.5 908.7,515.7 908.9,518.8 908.5,522.0 908.7,525.1 908.9,528.3 909.7,531.5 909.4,534.6 910.0,537.8 910.3,541.0 910.1,544.1 910.2,547.3 910.9,550.5 910.8,553.6 910.8,556.8 911.3,559.9 911.3,563.1 911.4,560.0 911.5,556.9 911.5,553.8 912.2,550.7 912.5,547.6 912.5,544.5 912.9,541.4 912.4,538.3 912.8,535.3 913.1,532.2 913.6,529.1 913.8,526.0 913.6,522.9 913.7,519.8 914.0,516.7 914.2,513.6 914.4,510.5 915.1,513.8 914.9,517.1 915.7,520.4 916.1,523.6 916.5,526.9 916.8,530.2 917.1,533.5 917.4,536.8 917.5,533.8 917.6,530.7 917.9,527.7 918.3,524.7 918.0,521.6 918.3,518.6 918.9,515.5 918.7,512.5 918.8,509.5 918.9,506.4 919.5,503.4 919.5,500.4 920.2,497.3 920.0,494.3 921.1,499.3 921.8,496.3 922.3,493.2 922.2,490.2 922.4,487.2 922.9,484.1 923.6,481.1 924.1,478.1 924.3,475.1 924.6,472.0 925.2,469.0 925.6,472.4 926.3,475.7 926.8,479.1 927.4,482.5 927.9,485.8 928.2,489.2 929.1,492.2 929.5,495.2 930.8,498.3 931.3,501.3 932.2,504.7 933.3,508.1 934.3,511.5 936.0,514.4 937.3,517.5 937.6,514.4 937.4,511.3 937.6,508.3 937.7,505.2 937.8,502.1 938.5,499.0 938.4,495.9 938.4,492.9 938.6,489.8 939.1,486.7 938.9,483.6 938.9,480.5 939.4,477.4 939.5,474.4 939.9,471.3 939.4,468.2 939.8,465.1 940.2,462.0 940.3,459.0 940.5,455.9 940.4,452.8 940.3,456.0 940.6,459.1 940.7,462.3 940.9,465.4 941.7,468.6 941.6,471.8 942.0,474.9 941.8,478.1 942.3,481.3 942.2,484.4 942.3,487.6 942.8,490.8 943.1,493.9 942.7,497.1 943.3,500.2 943.4,503.4 943.8,506.5 943.9,509.7 944.3,512.8 944.5,516.0 944.9,519.1 945.2,522.3 945.8,525.4 946.2,528.6 946.4,531.7 946.4,534.8 946.5,538.0 946.9,541.1 947.4,544.3 947.3,547.4 947.6,550.6 947.9,553.7 947.9,550.7 948.5,547.6 948.5,544.6 948.3,541.5 948.5,538.5 948.9,535.4 949.2,532.4 949.5,529.3 949.3,526.3 949.5,523.2 950.1,520.2 950.0,517.1 950.1,514.1 950.3,511.0 951.0,508.0 950.7,504.9 951.1,501.9 951.1,498.8 951.4,495.8 951.7,498.9 952.4,502.0 952.9,505.2 952.9,508.3 953.1,511.4 953.9,514.5 953.9,517.7 954.2,520.8 954.9,523.9 955.8,527.0 956.1,530.0 957.1,533.0 957.5,536.1 958.3,532.6 959.3,529.1 959.9,532.2 959.9,535.2 960.0,538.3 960.3,541.4 961.0,544.5 961.3,547.6 961.9,550.6 961.9,553.7 962.5,550.5 963.7,547.4 964.4,544.2 965.4,541.1 966.3,537.9 966.9,541.1 967.9,544.2 969.0,547.4 970.1,550.5 970.7,553.7 970.9,550.5 971.7,547.4 972.5,544.2 973.1,541.1 973.3,537.9 973.7,541.2 974.3,544.4 975.5,547.7 976.1,550.9 976.4,554.2 976.8,557.4 977.7,560.7 980.2,557.6 981.2,553.7 985.6,551.9 985.9,548.6 986.6,545.4 986.8,542.1 987.3,538.9 987.2,535.6 988.0,532.4 988.2,529.1 988.1,532.2 988.4,535.2 988.8,538.3 988.9,541.4 988.5,544.4 988.7,547.5 988.9,550.6 989.1,553.7 989.1,556.7 989.1,559.8 989.3,562.9 989.7,565.9 989.9,569.0 989.5,572.1 989.9,575.1 990.0,578.2 990.9,575.1 991.1,571.9 992.3,568.8 992.5,565.6 993.5,562.5 994.0,565.5 994.3,568.6 994.8,571.6 995.0,574.6 995.4,577.6 996.0,580.7 996.2,583.7 996.8,586.7 997.1,589.7 997.5,592.8 997.9,595.8 998.3,592.3 999.4,588.8 1000.0,585.2 1000.5,581.7 1001.4,578.2 1001.9,575.1 1002.3,571.9 1002.4,568.8 1002.6,565.6 1003.1,562.5 1003.2,559.3 1003.6,556.2 1004.2,553.0 1004.3,549.9 1004.9,546.7 1005.5,550.2 1006.2,553.7 1006.5,557.2 1007.5,560.7 1008.1,557.6 1008.2,554.5 1009.1,551.4 1009.6,548.3 1009.9,545.2 1010.0,542.1 1010.8,539.0 1011.2,535.9 1012.1,532.8 1012.0,529.7 1013.0,526.6 1013.6,523.5 1013.7,520.4 1015.0,523.4 1015.9,526.4 1016.3,529.4 1016.1,532.4 1016.8,535.4 1016.7,538.4 1017.2,541.5 1017.4,544.5 1017.1,547.5 1017.7,550.5 1017.7,553.5 1018.5,556.9 1018.3,560.2 1018.9,563.6 1019.7,567.0 1019.7,570.3 1020.4,573.7 1020.8,576.7 1020.6,579.7 1021.1,582.7 1020.8,585.8 1021.2,588.8 1021.6,591.8 1021.3,594.8 1021.5,597.8 1021.8,600.8 1021.8,603.9 1021.8,606.9 1022.0,609.9 1022.4,612.9 1022.3,609.8 1023.0,606.6 1022.9,603.5 1023.2,600.4 1022.8,597.3 1023.3,594.1 1023.0,591.0 1023.4,587.9 1023.6,584.8 1023.6,581.6 1024.0,578.5 1023.9,575.4 1024.1,572.3 1024.4,569.1 1024.0,566.0 1024.4,562.9 1025.0,566.1 1025.0,569.2 1025.0,572.4 1025.5,575.5 1025.4,578.7 1026.1,581.8 1026.1,585.0 1026.2,588.1 1026.5,591.3 1027.4,587.7 1027.8,584.1 1028.5,580.5 1028.6,583.9 1029.3,587.2 1029.2,590.6 1029.8,594.0 1030.2,597.0 1029.9,600.0 1030.3,603.0 1030.7,606.0 1030.6,609.0 1030.8,612.0 1030.6,615.0 1030.6,618.0 1030.7,621.0 1031.0,624.0 1031.4,627.0 1031.4,630.0 1031.6,633.0 1032.0,636.0 1031.9,639.0 1031.7,635.8 1031.9,632.7 1032.3,629.5 1032.0,626.4 1032.1,623.2 1032.4,620.1 1032.4,616.9 1032.6,613.8 1032.7,610.6 1033.0,607.5 1033.1,604.3 1033.0,601.2 1033.4,598.0 1033.4,594.9 1033.2,591.7 1033.9,588.6 1033.5,585.4 1033.5,582.3 1033.9,579.1 1034.5,582.3 1035.8,585.4 1036.6,588.6 1037.2,591.6 1037.5,594.7 1037.5,597.7 1037.8,600.8 1037.9,603.8 1038.7,606.8 1039.0,609.9 1039.3,612.9 1039.5,609.8 1039.9,606.7 1040.1,603.6 1040.7,600.5 1040.8,597.3 1040.7,594.2 1041.5,591.1 1041.1,588.0 1041.8,584.9 1042.0,581.8 1044.7,579.1 1045.6,582.5 1046.7,585.9 1047.9,582.3 1050.1,579.1 1054.1,579.1 1054.0,582.8 1054.6,586.5 1054.3,590.3 1054.8,594.0 1055.5,590.8 1056.4,587.7 1056.8,584.5 1057.2,588.1 1058.0,591.7 1058.9,595.3 1061.6,591.3 1062.8,594.1 1064.3,596.7 1067.0,594.0 1067.5,591.0 1068.2,588.0 1068.8,585.1 1068.9,582.1 1069.7,579.1 1070.6,582.5 1071.7,585.9 1071.6,589.0 1071.5,592.1 1072.2,595.3 1072.2,598.4 1072.2,601.5 1071.8,604.6 1072.5,607.8 1072.5,610.9 1072.4,614.0 1072.6,617.1 1072.5,620.3 1072.4,623.4 1072.4,626.5 1072.6,629.6 1072.5,632.8 1072.8,635.9 1073.0,639.0 1073.3,636.0 1073.4,632.9 1073.6,629.9 1073.6,626.9 1073.4,623.9 1073.7,620.8 1073.8,617.8 1074.1,614.8 1074.1,611.8 1074.0,608.7 1074.4,605.7 1074.7,602.7 1074.3,599.6 1074.9,596.6 1074.4,593.6 1074.7,590.6 1074.8,587.5 1075.1,584.5 1077.5,582.1 1079.1,579.1 1082.2,580.0 1085.2,579.1 1086.7,582.5 1087.9,585.9 1088.8,589.2 1089.9,592.6 1090.3,595.7 1090.0,598.8 1090.1,601.9 1090.7,605.0 1090.7,608.1 1090.8,611.2 1090.9,614.3 1091.3,617.3 1091.1,620.4 1091.5,623.5 1091.5,626.6 1091.8,629.7 1091.6,632.8 1091.9,635.9 1091.9,639.0 1092.1,636.0 1092.0,632.9 1092.1,629.9 1092.5,626.8 1092.2,623.8 1092.9,620.7 1092.5,617.7 1092.6,614.6 1092.7,611.6 1093.4,608.5 1093.2,605.5 1093.1,602.4 1093.2,599.4 1093.3,596.3 1093.9,593.3 1094.0,590.2 1094.0,587.2 1094.3,590.3 1094.5,593.3 1094.2,596.4 1094.8,599.5 1094.8,602.6 1095.3,605.6 1095.5,608.7 1095.7,611.8 1095.3,614.9 1096.1,617.9 1096.0,621.0 1096.6,624.0 1097.0,627.0 1096.7,630.0 1097.1,633.0 1097.4,636.0 1098.0,639.0" fill="none" stroke="#ff0000" stroke-width="4" stroke-linejoin="miter" stroke-miterlimit="2"/>
<g shape-rendering="crispEdges" fill="#008000">
<rect x="78" y="637" width="1378" height="1"/>
<rect x="134" y="632" width="3" height="6"/>
<rect x="135" y="631" width="1" height="1"/>
<rect x="133" y="635" width="5" height="3"/>
<rect x="191" y="632" width="3" height="6"/>
<rect x="192" y="631" width="1" height="1"/>
<rect x="190" y="635" width="5" height="3"/>
<rect x="248" y="629" width="3" height="9"/>
<rect x="249" y="628" width="1" height="1"/>
<rect x="247" y="635" width="5" height="3"/>
<rect x="306" y="631" width="3" height="7"/>
<rect x="307" y="630" width="1" height="1"/>
<rect x="305" y="635" width="5" height="3"/>
<rect x="364" y="635" width="3" height="3"/>
<rect x="365" y="634" width="1" height="1"/>
<rect x="421" y="636" width="3" height="2"/>
<rect x="422" y="635" width="1" height="1"/>
<rect x="478" y="636" width="3" height="2"/>
<rect x="479" y="635" width="1" height="1"/>
<rect x="536" y="632" width="3" height="6"/>
<rect x="537" y="631" width="1" height="1"/>
<rect x="535" y="635" width="5" height="3"/>
<rect x="594" y="632" width="3" height="6"/>
<rect x="595" y="631" width="1" height="1"/>
<rect x="593" y="635" width="5" height="3"/>
<rect x="651" y="632" width="3" height="6"/>
<rect x="652" y="631" width="1" height="1"/>
<rect x="650" y="635" width="5" height="3"/>
<rect x="708" y="620" width="3" height="18"/>
<rect x="709" y="619" width="1" height="1"/>
<rect x="707" y="629" width="5" height="9"/>
<rect x="766" y="614" width="3" height="24"/>
<rect x="767" y="613" width="1" height="1"/>
<rect x="765" y="626" width="5" height="12"/>
<rect x="824" y="623" width="3" height="15"/>
<rect x="825" y="622" width="1" height="1"/>
<rect x="823" y="630" width="5" height="8"/>
<rect x="881" y="623" width="3" height="15"/>
<rect x="882" y="622" width="1" height="1"/>
<rect x="880" y="630" width="5" height="8"/>
<rect x="938" y="620" width="3" height="18"/>
<rect x="939" y="619" width="1" height="1"/>
<rect x="937" y="629" width="5" height="9"/>
<rect x="996" y="620" width="3" height="18"/>
<rect x="997" y="619" width="1" height="1"/>
<rect x="995" y="629" width="5" height="9"/>
<rect x="1054" y="623" width="3" height="15"/>
<rect x="1055" y="622" width="1" height="1"/>
<rect x="1053" y="630" width="5" height="8"/>
<rect x="1111" y="626" width="3" height="12"/>
<rect x="1112" y="625" width="1" height="1"/>
<rect x="1110" y="632" width="5" height="6"/>
<rect x="1168" y="632" width="3" height="6"/>
<rect x="1169" y="631" width="1" height="1"/>
<rect x="1167" y="635" width="5" height="3"/>
<rect x="1226" y="629" width="3" height="9"/>
<rect x="1227" y="628" width="1" height="1"/>
<rect x="1225" y="635" width="5" height="3"/>
<rect x="1284" y="632" width="3" height="6"/>
<rect x="1285" y="631" width="1" height="1"/>
<rect x="1283" y="635" width="5" height="3"/>
<rect x="1341" y="635" width="3" height="3"/>
<rect x="1342" y="634" width="1" height="1"/>
<rect x="1398" y="635" width="3" height="3"/>
<rect x="1399" y="634" width="1" height="1"/>
</g>
<path d="M77.5 638.5 H303.5 V626.5 H304.5 V614.5 H312.5 V602.5 H313.5 V591.5 H344.5 V579.5 H345.5 V567.5 H352.5 V555.5 H353.5 V544.5 H434.5 V532.5 H435.5 V520.5 H515.5 V508.5 H516.5 V496.5 H520.5 V484.5 H521.5 V473.5 H531.5 V461.5 H532.5 V449.5 H874.5 V437.5 H875.5 V426.5 H887.5 V414.5 H888.5 V402.5 H894.5 V390.5 H895.5 V378.5 H1460" fill="none" stroke="#0000ff" stroke-width="3" stroke-linecap="square" shape-rendering="crispEdges"/>
</g>
<g shape-rendering="crispEdges">
<rect x="76" y="49" width="2" height="590" fill="#808080"/>
<rect x="78" y="47" width="1380" height="2" fill="#808080"/>
<rect x="1456" y="47" width="2" height="591" fill="#808080"/>
<rect x="73" y="638" width="1389" height="1" fill="#808080"/>
<rect x="40" y="48" width="1" height="591" fill="#808080"/>
<rect x="36" y="638" width="8" height="1" fill="#808080"/>
<text x="19.56" y="643" textLength="14.88" lengthAdjust="spacingAndGlyphs" style="font-size:12.6px;fill:#0000ff;">0.0</text>
<rect x="36" y="614" width="5" height="1" fill="#808080"/>
<text x="19.56" y="619" textLength="14.88" lengthAdjust="spacingAndGlyphs" style="font-size:12.6px;fill:#0000ff;">0.2</text>
<rect x="36" y="591" width="5" height="1" fill="#808080"/>
<text x="19.56" y="596" textLength="14.88" lengthAdjust="spacingAndGlyphs" style="font-size:12.6px;fill:#0000ff;">0.4</text>
<rect x="36" y="567" width="5" height="1" fill="#808080"/>
<text x="19.56" y="572" textLength="14.88" lengthAdjust="spacingAndGlyphs" style="font-size:12.6px;fill:#0000ff;">0.6</text>
<rect x="36" y="544" width="5" height="1" fill="#808080"/>
<text x="19.56" y="549" textLength="14.88" lengthAdjust="spacingAndGlyphs" style="font-size:12.6px;fill:#0000ff;">0.8</text>
<rect x="36" y="520" width="5" height="1" fill="#808080"/>
<text x="19.56" y="525" textLength="14.88" lengthAdjust="spacingAndGlyphs" style="font-size:12.6px;fill:#0000ff;">1.0</text>
<rect x="36" y="496" width="5" height="1" fill="#808080"/>
<text x="19.56" y="501" textLength="14.88" lengthAdjust="spacingAndGlyphs" style="font-size:12.6px;fill:#0000ff;">1.2</text>
<rect x="36" y="473" width="5" height="1" fill="#808080"/>
<text x="19.56" y="478" textLength="14.88" lengthAdjust="spacingAndGlyphs" style="font-size:12.6px;fill:#0000ff;">1.4</text>
<rect x="36" y="449" width="5" height="1" fill="#808080"/>
<text x="19.56" y="454" textLength="14.88" lengthAdjust="spacingAndGlyphs" style="font-size:12.6px;fill:#0000ff;">1.6</text>
<rect x="36" y="426" width="5" height="1" fill="#808080"/>
<text x="19.56" y="431" textLength="14.88" lengthAdjust="spacingAndGlyphs" style="font-size:12.6px;fill:#0000ff;">1.8</text>
<rect x="36" y="402" width="5" height="1" fill="#808080"/>
<text x="19.56" y="407" textLength="14.88" lengthAdjust="spacingAndGlyphs" style="font-size:12.6px;fill:#0000ff;">2.0</text>
<rect x="36" y="378" width="5" height="1" fill="#808080"/>
<text x="19.56" y="383" textLength="14.88" lengthAdjust="spacingAndGlyphs" style="font-size:12.6px;fill:#0000ff;">2.2</text>
<rect x="36" y="355" width="5" height="1" fill="#808080"/>
<text x="19.56" y="360" textLength="14.88" lengthAdjust="spacingAndGlyphs" style="font-size:12.6px;fill:#0000ff;">2.4</text>
<rect x="36" y="331" width="5" height="1" fill="#808080"/>
<text x="19.56" y="336" textLength="14.88" lengthAdjust="spacingAndGlyphs" style="font-size:12.6px;fill:#0000ff;">2.6</text>
<rect x="36" y="308" width="5" height="1" fill="#808080"/>
<text x="19.56" y="313" textLength="14.88" lengthAdjust="spacingAndGlyphs" style="font-size:12.6px;fill:#0000ff;">2.8</text>
<rect x="36" y="284" width="5" height="1" fill="#808080"/>
<text x="19.56" y="289" textLength="14.88" lengthAdjust="spacingAndGlyphs" style="font-size:12.6px;fill:#0000ff;">3.0</text>
<rect x="36" y="260" width="5" height="1" fill="#808080"/>
<text x="19.56" y="265" textLength="14.88" lengthAdjust="spacingAndGlyphs" style="font-size:12.6px;fill:#0000ff;">3.2</text>
<rect x="36" y="237" width="5" height="1" fill="#808080"/>
<text x="19.56" y="242" textLength="14.88" lengthAdjust="spacingAndGlyphs" style="font-size:12.6px;fill:#0000ff;">3.4</text>
<rect x="36" y="213" width="5" height="1" fill="#808080"/>
<text x="19.56" y="218" textLength="14.88" lengthAdjust="spacingAndGlyphs" style="font-size:12.6px;fill:#0000ff;">3.6</text>
<rect x="36" y="190" width="5" height="1" fill="#808080"/>
<text x="19.56" y="195" textLength="14.88" lengthAdjust="spacingAndGlyphs" style="font-size:12.6px;fill:#0000ff;">3.8</text>
<rect x="36" y="166" width="5" height="1" fill="#808080"/>
<text x="19.56" y="171" textLength="14.88" lengthAdjust="spacingAndGlyphs" style="font-size:12.6px;fill:#0000ff;">4.0</text>
<rect x="36" y="142" width="5" height="1" fill="#808080"/>
<text x="19.56" y="147" textLength="14.88" lengthAdjust="spacingAndGlyphs" style="font-size:12.6px;fill:#0000ff;">4.2</text>
<rect x="36" y="119" width="5" height="1" fill="#808080"/>
<text x="19.56" y="124" textLength="14.88" lengthAdjust="spacingAndGlyphs" style="font-size:12.6px;fill:#0000ff;">4.4</text>
<rect x="36" y="95" width="5" height="1" fill="#808080"/>
<text x="19.56" y="100" textLength="14.88" lengthAdjust="spacingAndGlyphs" style="font-size:12.6px;fill:#0000ff;">4.6</text>
<rect x="36" y="72" width="8" height="1" fill="#808080"/>
<text x="19.56" y="77" textLength="14.88" lengthAdjust="spacingAndGlyphs" style="font-size:12.6px;fill:#0000ff;">4.8</text>
<rect x="73" y="638" width="3" height="1" fill="#808080"/>
<text x="56.56" y="643" textLength="14.88" lengthAdjust="spacingAndGlyphs" style="font-size:12.6px;fill:#ff0000;">0.0</text>
<rect x="73" y="596" width="3" height="1" fill="#808080"/>
<text x="56.56" y="601" textLength="14.88" lengthAdjust="spacingAndGlyphs" style="font-size:12.6px;fill:#ff0000;">0.5</text>
<rect x="73" y="554" width="3" height="1" fill="#808080"/>
<text x="56.56" y="559" textLength="14.88" lengthAdjust="spacingAndGlyphs" style="font-size:12.6px;fill:#ff0000;">1.0</text>
<rect x="73" y="512" width="3" height="1" fill="#808080"/>
<text x="56.56" y="517" textLength="14.88" lengthAdjust="spacingAndGlyphs" style="font-size:12.6px;fill:#ff0000;">1.5</text>
<rect x="73" y="469" width="3" height="1" fill="#808080"/>
<text x="56.56" y="474" textLength="14.88" lengthAdjust="spacingAndGlyphs" style="font-size:12.6px;fill:#ff0000;">2.0</text>
<rect x="73" y="427" width="3" height="1" fill="#808080"/>
<text x="56.56" y="432" textLength="14.88" lengthAdjust="spacingAndGlyphs" style="font-size:12.6px;fill:#ff0000;">2.5</text>
<rect x="73" y="385" width="3" height="1" fill="#808080"/>
<text x="56.56" y="390" textLength="14.88" lengthAdjust="spacingAndGlyphs" style="font-size:12.6px;fill:#ff0000;">3.0</text>
<rect x="73" y="343" width="3" height="1" fill="#808080"/>
<text x="56.56" y="348" textLength="14.88" lengthAdjust="spacingAndGlyphs" style="font-size:12.6px;fill:#ff0000;">3.5</text>
<rect x="73" y="301" width="3" height="1" fill="#808080"/>
<text x="56.56" y="306" textLength="14.88" lengthAdjust="spacingAndGlyphs" style="font-size:12.6px;fill:#ff0000;">4.0</text>
<rect x="73" y="259" width="3" height="1" fill="#808080"/>
<text x="56.56" y="264" textLength="14.88" lengthAdjust="spacingAndGlyphs" style="font-size:12.6px;fill:#ff0000;">4.5</text>
<rect x="73" y="217" width="3" height="1" fill="#808080"/>
<text x="56.56" y="222" textLength="14.88" lengthAdjust="spacingAndGlyphs" style="font-size:12.6px;fill:#ff0000;">5.0</text>
<rect x="73" y="174" width="3" height="1" fill="#808080"/>
<text x="56.56" y="179" textLength="14.88" lengthAdjust="spacingAndGlyphs" style="font-size:12.6px;fill:#ff0000;">5.5</text>
<rect x="73" y="132" width="3" height="1" fill="#808080"/>
<text x="56.56" y="137" textLength="14.88" lengthAdjust="spacingAndGlyphs" style="font-size:12.6px;fill:#ff0000;">6.0</text>
<rect x="73" y="90" width="3" height="1" fill="#808080"/>
<text x="56.56" y="95" textLength="14.88" lengthAdjust="spacingAndGlyphs" style="font-size:12.6px;fill:#ff0000;">6.5</text>
<rect x="73" y="48" width="3" height="1" fill="#808080"/>
<text x="56.56" y="53" textLength="14.88" lengthAdjust="spacingAndGlyphs" style="font-size:12.6px;fill:#ff0000;">7.0</text>
<rect x="1458" y="638" width="4" height="1" fill="#808080"/>
<text x="1463.56" y="643" textLength="5.88" lengthAdjust="spacingAndGlyphs" style="font-size:12.6px;fill:#cccc00;">0</text>
<rect x="1458" y="490" width="4" height="1" fill="#808080"/>
<text x="1463.56" y="495" textLength="5.88" lengthAdjust="spacingAndGlyphs" style="font-size:12.6px;fill:#cccc00;">5</text>
<rect x="1458" y="343" width="4" height="1" fill="#808080"/>
<text x="1463.56" y="348" textLength="11.88" lengthAdjust="spacingAndGlyphs" style="font-size:12.6px;fill:#cccc00;">10</text>
<rect x="1458" y="196" width="4" height="1" fill="#808080"/>
<text x="1463.56" y="201" textLength="11.88" lengthAdjust="spacingAndGlyphs" style="font-size:12.6px;fill:#cccc00;">15</text>
<rect x="1458" y="48" width="4" height="1" fill="#808080"/>
<text x="1463.56" y="53" textLength="11.88" lengthAdjust="spacingAndGlyphs" style="font-size:12.6px;fill:#cccc00;">20</text>
<rect x="1494" y="48" width="1" height="591" fill="#808080"/>
<rect x="1490" y="638" width="9" height="1" fill="#808080"/>
<text x="1500.56" y="643" textLength="5.88" lengthAdjust="spacingAndGlyphs" style="font-size:12.6px;fill:#ff8000;">0</text>
<rect x="1495" y="589" width="4" height="1" fill="#808080"/>
<text x="1500.56" y="594" textLength="17.88" lengthAdjust="spacingAndGlyphs" style="font-size:12.6px;fill:#ff8000;">100</text>
<rect x="1495" y="540" width="4" height="1" fill="#808080"/>
<text x="1500.56" y="545" textLength="17.88" lengthAdjust="spacingAndGlyphs" style="font-size:12.6px;fill:#ff8000;">200</text>
<rect x="1495" y="490" width="4" height="1" fill="#808080"/>
<text x="1500.56" y="495" textLength="17.88" lengthAdjust="spacingAndGlyphs" style="font-size:12.6px;fill:#ff8000;">300</text>
<rect x="1495" y="441" width="4" height="1" fill="#808080"/>
<text x="1500.56" y="446" textLength="17.88" lengthAdjust="spacingAndGlyphs" style="font-size:12.6px;fill:#ff8000;">400</text>
<rect x="1495" y="392" width="4" height="1" fill="#808080"/>
<text x="1500.56" y="397" textLength="17.88" lengthAdjust="spacingAndGlyphs" style="font-size:12.6px;fill:#ff8000;">500</text>
<rect x="1495" y="343" width="4" height="1" fill="#808080"/>
<text x="1500.56" y="348" textLength="17.88" lengthAdjust="spacingAndGlyphs" style="font-size:12.6px;fill:#ff8000;">600</text>
<rect x="1495" y="294" width="4" height="1" fill="#808080"/>
<text x="1500.56" y="299" textLength="17.88" lengthAdjust="spacingAndGlyphs" style="font-size:12.6px;fill:#ff8000;">700</text>
<rect x="1495" y="245" width="4" height="1" fill="#808080"/>
<text x="1500.56" y="250" textLength="17.88" lengthAdjust="spacingAndGlyphs" style="font-size:12.6px;fill:#ff8000;">800</text>
<rect x="1495" y="196" width="4" height="1" fill="#808080"/>
<text x="1500.56" y="201" textLength="17.88" lengthAdjust="spacingAndGlyphs" style="font-size:12.6px;fill:#ff8000;">900</text>
<rect x="1495" y="146" width="4" height="1" fill="#808080"/>
<text x="1500.56" y="151" textLength="23.88" lengthAdjust="spacingAndGlyphs" style="font-size:12.6px;fill:#ff8000;">1000</text>
<rect x="1495" y="97" width="4" height="1" fill="#808080"/>
<text x="1500.56" y="102" textLength="23.88" lengthAdjust="spacingAndGlyphs" style="font-size:12.6px;fill:#ff8000;">1100</text>
<rect x="1490" y="48" width="9" height="1" fill="#808080"/>
<text x="1500.56" y="53" textLength="23.88" lengthAdjust="spacingAndGlyphs" style="font-size:12.6px;fill:#ff8000;">1200</text>
<rect x="77" y="639" width="1" height="4" fill="#808080"/>
<text x="64.56" y="657" textLength="26.88" lengthAdjust="spacingAndGlyphs" style="font-size:12.6px;fill:#000;">00:00</text>
<rect x="135" y="639" width="1" height="4" fill="#808080"/>
<text x="122.56" y="657" textLength="26.88" lengthAdjust="spacingAndGlyphs" style="font-size:12.6px;fill:#000;">01:00</text>
<rect x="192" y="639" width="1" height="4" fill="#808080"/>
<text x="179.56" y="657" textLength="26.88" lengthAdjust="spacingAndGlyphs" style="font-size:12.6px;fill:#000;">02:00</text>
<rect x="249" y="639" width="1" height="4" fill="#808080"/>
<text x="236.56" y="657" textLength="26.88" lengthAdjust="spacingAndGlyphs" style="font-size:12.6px;fill:#000;">03:00</text>
<rect x="307" y="639" width="1" height="4" fill="#808080"/>
<text x="294.56" y="657" textLength="26.88" lengthAdjust="spacingAndGlyphs" style="font-size:12.6px;fill:#000;">04:00</text>
<rect x="365" y="639" width="1" height="4" fill="#808080"/>
<text x="352.56" y="657" textLength="26.88" lengthAdjust="spacingAndGlyphs" style="font-size:12.6px;fill:#000;">05:00</text>
<rect x="422" y="639" width="1" height="4" fill="#808080"/>
<text x="409.56" y="657" textLength="26.88" lengthAdjust="spacingAndGlyphs" style="font-size:12.6px;fill:#000;">06:00</text>
<rect x="479" y="639" width="1" height="4" fill="#808080"/>
<text x="466.56" y="657" textLength="26.88" lengthAdjust="spacingAndGlyphs" style="font-size:12.6px;fill:#000;">07:00</text>
<rect x="537" y="639" width="1" height="4" fill="#808080"/>
<text x="524.56" y="657" textLength="26.88" lengthAdjust="spacingAndGlyphs" style="font-size:12.6px;fill:#000;">08:00</text>
<rect x="595" y="639" width="1" height="4" fill="#808080"/>
<text x="582.56" y="657" textLength="26.88" lengthAdjust="spacingAndGlyphs" style="font-size:12.6px;fill:#000;">09:00</text>
<rect x="652" y="639" width="1" height="4" fill="#808080"/>
<text x="639.56" y="657" textLength="26.88" lengthAdjust="spacingAndGlyphs" style="font-size:12.6px;fill:#000;">10:00</text>
<rect x="709" y="639" width="1" height="4" fill="#808080"/>
<text x="696.56" y="657" textLength="26.88" lengthAdjust="spacingAndGlyphs" style="font-size:12.6px;fill:#000;">11:00</text>
<rect x="767" y="639" width="1" height="4" fill="#808080"/>
<text x="754.56" y="657" textLength="26.88" lengthAdjust="spacingAndGlyphs" style="font-size:12.6px;fill:#000;">12:00</text>
<rect x="825" y="639" width="1" height="4" fill="#808080"/>
<text x="812.56" y="657" textLength="26.88" lengthAdjust="spacingAndGlyphs" style="font-size:12.6px;fill:#000;">13:00</text>
<rect x="882" y="639" width="1" height="4" fill="#808080"/>
<text x="869.56" y="657" textLength="26.88" lengthAdjust="spacingAndGlyphs" style="font-size:12.6px;fill:#000;">14:00</text>
<rect x="939" y="639" width="1" height="4" fill="#808080"/>
<text x="926.56" y="657" textLength="26.88" lengthAdjust="spacingAndGlyphs" style="font-size:12.6px;fill:#000;">15:00</text>
<rect x="997" y="639" width="1" height="4" fill="#808080"/>
<text x="984.56" y="657" textLength="26.88" lengthAdjust="spacingAndGlyphs" style="font-size:12.6px;fill:#000;">16:00</text>
<rect x="1055" y="639" width="1" height="4" fill="#808080"/>
<text x="1042.56" y="657" textLength="26.88" lengthAdjust="spacingAndGlyphs" style="font-size:12.6px;fill:#000;">17:00</text>
<rect x="1112" y="639" width="1" height="4" fill="#808080"/>
<text x="1099.56" y="657" textLength="26.88" lengthAdjust="spacingAndGlyphs" style="font-size:12.6px;fill:#000;">18:00</text>
<rect x="1169" y="639" width="1" height="4" fill="#808080"/>
<text x="1156.56" y="657" textLength="26.88" lengthAdjust="spacingAndGlyphs" style="font-size:12.6px;fill:#000;">19:00</text>
<rect x="1227" y="639" width="1" height="4" fill="#808080"/>
<text x="1214.56" y="657" textLength="26.88" lengthAdjust="spacingAndGlyphs" style="font-size:12.6px;fill:#000;">20:00</text>
<rect x="1285" y="639" width="1" height="4" fill="#808080"/>
<text x="1272.56" y="657" textLength="26.88" lengthAdjust="spacingAndGlyphs" style="font-size:12.6px;fill:#000;">21:00</text>
<rect x="1342" y="639" width="1" height="4" fill="#808080"/>
<text x="1329.56" y="657" textLength="26.88" lengthAdjust="spacingAndGlyphs" style="font-size:12.6px;fill:#000;">22:00</text>
<rect x="1399" y="639" width="1" height="4" fill="#808080"/>
<text x="1386.56" y="657" textLength="26.88" lengthAdjust="spacingAndGlyphs" style="font-size:12.6px;fill:#000;">23:00</text>
<rect x="1457" y="639" width="1" height="4" fill="#808080"/>
<text x="1444.56" y="657" textLength="26.88" lengthAdjust="spacingAndGlyphs" style="font-size:12.6px;fill:#000;">24:00</text>
</g>
<text x="694.40" y="21" textLength="152.19" lengthAdjust="spacingAndGlyphs" style="font-size:17px;fill:#000;">Samstag, 05.07.2025</text>
<text x="1303.56" y="16" textLength="227.88" lengthAdjust="spacingAndGlyphs" style="font-size:12.6px;fill:#ff0000;">© private Wetterstation Tinnum/Westerland/Sylt</text>
<text x="14.56" y="37" textLength="15.88" lengthAdjust="spacingAndGlyphs" style="font-size:12.6px;fill:#0000ff;">mm</text>
<text x="46.56" y="37" textLength="19.88" lengthAdjust="spacingAndGlyphs" style="font-size:12.6px;fill:#ff0000;">UV-I</text>
<text x="1457.56" y="37" textLength="15.88" lengthAdjust="spacingAndGlyphs" style="font-size:12.6px;fill:#cccc00;">min</text>
<text x="1493.56" y="37" textLength="28.88" lengthAdjust="spacingAndGlyphs" style="font-size:12.6px;fill:#ff8000;">W/m²</text>
<rect x="87" y="33" width="10" height="10" fill="#000"/>
<rect x="88" y="34" width="8" height="8" fill="#0000ff"/>
<text x="100.56" y="42" textLength="62.88" lengthAdjust="spacingAndGlyphs" style="font-size:12.6px;fill:#0000ff;">Niederschlag</text>
<rect x="182" y="33" width="10" height="10" fill="#000"/>
<rect x="183" y="34" width="8" height="8" fill="#cccc00"/>
<text x="195.56" y="42" textLength="68.88" lengthAdjust="spacingAndGlyphs" style="font-size:12.6px;fill:#cccc00;">Sonnenschein</text>
<rect x="277" y="33" width="10" height="10" fill="#000"/>
<rect x="278" y="34" width="8" height="8" fill="#008000"/>
<text x="290.56" y="42" textLength="60.88" lengthAdjust="spacingAndGlyphs" style="font-size:12.6px;fill:#0000ff;">Verdunstung</text>
<rect x="372" y="33" width="10" height="10" fill="#000"/>
<rect x="373" y="34" width="8" height="8" fill="#ff0000"/>
<text x="386.56" y="42" textLength="62.88" lengthAdjust="spacingAndGlyphs" style="font-size:12.6px;fill:#ff0000;">UV-Strahlung</text>
<rect x="467" y="33" width="10" height="10" fill="#000"/>
<rect x="468" y="34" width="8" height="8" fill="#ff8000"/>
<text x="481.56" y="42" textLength="36.88" lengthAdjust="spacingAndGlyphs" style="font-size:12.6px;fill:#ff8000;">Solarstr.</text>
<text x="10.56" y="668" textLength="26.88" lengthAdjust="spacingAndGlyphs" style="font-size:12.6px;fill:#000;">17:08</text>
<path d="M40 667 L40 664 Q40 661 44.5 661 Q49 661 49 664 L49 667 Z" fill="#ffff00"/>
<rect x="128" y="637" width="2" height="10" fill="#808080"/>
<rect x="124" y="658" width="11" height="11" fill="#10108c"/>
<path d="M127 658 h3 v3 h1.5 l-3 4.5 l-3 -4.5 h1.5z" fill="#ffff00"/>
<circle cx="132" cy="668.5" r="2.6" fill="#ffffff"/>
<text x="135.56" y="668" textLength="26.88" lengthAdjust="spacingAndGlyphs" style="font-size:12.6px;fill:#000;">00:53</text>
<rect x="360" y="634" width="2" height="13" fill="#ffff00"/>
<text x="327.56" y="668" textLength="26.88" lengthAdjust="spacingAndGlyphs" style="font-size:12.6px;fill:#000;">04:56</text>
<circle cx="361.5" cy="664.5" r="3.4" fill="#ffff00"/>
<circle cx="361.5" cy="664.5" r="5" fill="none" stroke="#ffff80" stroke-width="1" stroke-dasharray="1.5 1.5"/>
<rect x="1074" y="637" width="2" height="10" fill="#808080"/>
<rect x="1070" y="658" width="11" height="11" fill="#10108c"/>
<circle cx="1073" cy="661" r="2.6" fill="#ffffff"/>
<path d="M1077 661 l3 4 h-1.5 v4 h-3 v-4 h-1.5z" fill="#ffff00"/>
<text x="1082.56" y="668" textLength="25.88" lengthAdjust="spacingAndGlyphs" style="font-size:12.6px;fill:#000;">17:20</text>
<rect x="1346" y="634" width="2" height="13" fill="#ffff00"/>
<text x="1313.56" y="668" textLength="26.88" lengthAdjust="spacingAndGlyphs" style="font-size:12.6px;fill:#000;">22:05</text>
<rect x="1344.5" y="661.5" width="5" height="5" fill="none" stroke="#ffff80" stroke-width="1"/>
<g shape-rendering="crispEdges">
<rect x="88" y="671" width="1" height="70" fill="#a0a0a0"/>
<rect x="205" y="671" width="1" height="70" fill="#a0a0a0"/>
<rect x="323" y="671" width="1" height="70" fill="#a0a0a0"/>
<rect x="441" y="671" width="1" height="70" fill="#a0a0a0"/>
<rect x="559" y="671" width="1" height="70" fill="#a0a0a0"/>
<rect x="795" y="671" width="1" height="70" fill="#a0a0a0"/>
<rect x="1535" y="671" width="1" height="70" fill="#a0a0a0"/>
<text x="8.57" y="689" textLength="38.85" lengthAdjust="spacingAndGlyphs" style="font-size:12.2px;fill:#000;font-weight:bold;">Sensor</text>
<text x="8.57" y="705" textLength="46.85" lengthAdjust="spacingAndGlyphs" style="font-size:12.2px;fill:#000;font-weight:bold;">MinWert</text>
<text x="8.57" y="721" textLength="49.85" lengthAdjust="spacingAndGlyphs" style="font-size:12.2px;fill:#000;font-weight:bold;">MaxWert</text>
<text x="8.57" y="737" textLength="71.85" lengthAdjust="spacingAndGlyphs" style="font-size:12.2px;fill:#000;font-weight:bold;">Durchschnitt</text>
<text x="94.57" y="689" textLength="73.85" lengthAdjust="spacingAndGlyphs" style="font-size:12.2px;fill:#000;font-weight:bold;">Niederschlag</text>
<text x="180.57" y="689" textLength="17.85" lengthAdjust="spacingAndGlyphs" style="font-size:12.2px;fill:#000;font-weight:bold;">mm</text>
<text x="100.56" y="721" textLength="26.88" lengthAdjust="spacingAndGlyphs" style="font-size:12.6px;fill:#000;">03:57</text>
<text x="183.56" y="721" textLength="14.88" lengthAdjust="spacingAndGlyphs" style="font-size:12.6px;fill:#000;">0.2</text>
<text x="94.56" y="737" textLength="37.88" lengthAdjust="spacingAndGlyphs" style="font-size:12.6px;fill:#000;">Gesamt:</text>
<text x="183.56" y="737" textLength="14.88" lengthAdjust="spacingAndGlyphs" style="font-size:12.6px;fill:#000;">2.2</text>
<text x="212.57" y="689" textLength="45.85" lengthAdjust="spacingAndGlyphs" style="font-size:12.2px;fill:#000;font-weight:bold;">Solarstr.</text>
<text x="285.57" y="689" textLength="30.85" lengthAdjust="spacingAndGlyphs" style="font-size:12.2px;fill:#000;font-weight:bold;">W/m²</text>
<text x="212.56" y="705" textLength="43.88" lengthAdjust="spacingAndGlyphs" style="font-size:12.6px;fill:#000;">Elevation</text>
<text x="286.56" y="705" textLength="29.88" lengthAdjust="spacingAndGlyphs" style="font-size:12.6px;fill:#000;">-9.922</text>
<text x="217.56" y="721" textLength="26.88" lengthAdjust="spacingAndGlyphs" style="font-size:12.6px;fill:#000;">11:51</text>
<text x="298.56" y="721" textLength="17.88" lengthAdjust="spacingAndGlyphs" style="font-size:12.6px;fill:#000;">624</text>
<text x="212.56" y="737" textLength="55.88" lengthAdjust="spacingAndGlyphs" style="font-size:12.6px;fill:#000;">Tag:13 min.</text>
<text x="298.56" y="737" textLength="17.88" lengthAdjust="spacingAndGlyphs" style="font-size:12.6px;fill:#000;">128</text>
<text x="329.57" y="689" textLength="71.85" lengthAdjust="spacingAndGlyphs" style="font-size:12.2px;fill:#000;font-weight:bold;">Verdunstung</text>
<text x="416.57" y="689" textLength="18.85" lengthAdjust="spacingAndGlyphs" style="font-size:12.2px;fill:#000;font-weight:bold;">mm</text>
<text x="335.56" y="721" textLength="27.88" lengthAdjust="spacingAndGlyphs" style="font-size:12.6px;fill:#000;">12:00</text>
<text x="406.56" y="721" textLength="28.88" lengthAdjust="spacingAndGlyphs" style="font-size:12.6px;fill:#000;">0.203</text>
<text x="329.56" y="737" textLength="39.88" lengthAdjust="spacingAndGlyphs" style="font-size:12.6px;fill:#000;">Gesamt:</text>
<text x="406.56" y="737" textLength="28.88" lengthAdjust="spacingAndGlyphs" style="font-size:12.6px;fill:#000;">1.829</text>
<text x="448.57" y="689" textLength="103.85" lengthAdjust="spacingAndGlyphs" style="font-size:12.2px;fill:#000;font-weight:bold;">UV-Strahlung UV-I</text>
<text x="453.56" y="705" textLength="27.88" lengthAdjust="spacingAndGlyphs" style="font-size:12.6px;fill:#000;">00:00</text>
<text x="537.56" y="705" textLength="14.88" lengthAdjust="spacingAndGlyphs" style="font-size:12.6px;fill:#000;">0.0</text>
<text x="453.56" y="721" textLength="27.88" lengthAdjust="spacingAndGlyphs" style="font-size:12.6px;fill:#000;">11:45</text>
<text x="537.56" y="721" textLength="14.88" lengthAdjust="spacingAndGlyphs" style="font-size:12.6px;fill:#000;">2.7</text>
<text x="537.56" y="737" textLength="14.88" lengthAdjust="spacingAndGlyphs" style="font-size:12.6px;fill:#000;">1.1</text>
<text x="684.56" y="689" textLength="48.88" lengthAdjust="spacingAndGlyphs" style="font-size:12.6px;fill:#000;">Regen/1h</text>
<text x="758.56" y="689" textLength="30.88" lengthAdjust="spacingAndGlyphs" style="font-size:12.6px;fill:#000;">0.0mm</text>
<text x="684.56" y="705" textLength="55.88" lengthAdjust="spacingAndGlyphs" style="font-size:12.6px;fill:#000;">Regen/Tag</text>
<text x="758.56" y="705" textLength="30.88" lengthAdjust="spacingAndGlyphs" style="font-size:12.6px;fill:#000;">2.2mm</text>
<text x="684.56" y="721" textLength="67.88" lengthAdjust="spacingAndGlyphs" style="font-size:12.6px;fill:#000;">Sonnenschein</text>
<text x="760.56" y="721" textLength="27.88" lengthAdjust="spacingAndGlyphs" style="font-size:12.6px;fill:#000;">0:13h</text>
</g>
</svg>
</body></html>
